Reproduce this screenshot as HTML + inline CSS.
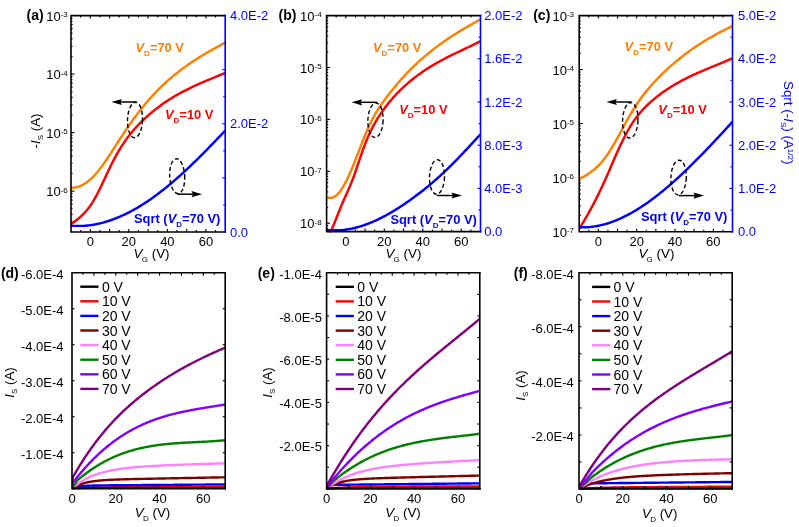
<!DOCTYPE html>
<html><head><meta charset="utf-8"><title>Figure</title>
<style>html,body{margin:0;padding:0;background:#fff;} body{width:799px;height:527px;overflow:hidden;} svg{display:block;filter:blur(0.3px);}</style>
</head><body>
<svg width="799" height="527" viewBox="0 0 799 527" font-family="'Liberation Sans', sans-serif">

<line x1="80.64" y1="232" x2="80.64" y2="230" stroke="#000" stroke-width="1.1"/>
<line x1="80.64" y1="15.6" x2="80.64" y2="17.6" stroke="#000" stroke-width="1.1"/>
<line x1="90.28" y1="232" x2="90.28" y2="229" stroke="#000" stroke-width="1.1"/>
<line x1="90.28" y1="15.6" x2="90.28" y2="18.6" stroke="#000" stroke-width="1.1"/>
<line x1="99.91" y1="232" x2="99.91" y2="230" stroke="#000" stroke-width="1.1"/>
<line x1="99.91" y1="15.6" x2="99.91" y2="17.6" stroke="#000" stroke-width="1.1"/>
<line x1="109.55" y1="232" x2="109.55" y2="229" stroke="#000" stroke-width="1.1"/>
<line x1="109.55" y1="15.6" x2="109.55" y2="18.6" stroke="#000" stroke-width="1.1"/>
<line x1="119.19" y1="232" x2="119.19" y2="230" stroke="#000" stroke-width="1.1"/>
<line x1="119.19" y1="15.6" x2="119.19" y2="17.6" stroke="#000" stroke-width="1.1"/>
<line x1="128.82" y1="232" x2="128.82" y2="229" stroke="#000" stroke-width="1.1"/>
<line x1="128.82" y1="15.6" x2="128.82" y2="18.6" stroke="#000" stroke-width="1.1"/>
<line x1="138.46" y1="232" x2="138.46" y2="230" stroke="#000" stroke-width="1.1"/>
<line x1="138.46" y1="15.6" x2="138.46" y2="17.6" stroke="#000" stroke-width="1.1"/>
<line x1="148.1" y1="232" x2="148.1" y2="229" stroke="#000" stroke-width="1.1"/>
<line x1="148.1" y1="15.6" x2="148.1" y2="18.6" stroke="#000" stroke-width="1.1"/>
<line x1="157.74" y1="232" x2="157.74" y2="230" stroke="#000" stroke-width="1.1"/>
<line x1="157.74" y1="15.6" x2="157.74" y2="17.6" stroke="#000" stroke-width="1.1"/>
<line x1="167.38" y1="232" x2="167.38" y2="229" stroke="#000" stroke-width="1.1"/>
<line x1="167.38" y1="15.6" x2="167.38" y2="18.6" stroke="#000" stroke-width="1.1"/>
<line x1="177.01" y1="232" x2="177.01" y2="230" stroke="#000" stroke-width="1.1"/>
<line x1="177.01" y1="15.6" x2="177.01" y2="17.6" stroke="#000" stroke-width="1.1"/>
<line x1="186.65" y1="232" x2="186.65" y2="229" stroke="#000" stroke-width="1.1"/>
<line x1="186.65" y1="15.6" x2="186.65" y2="18.6" stroke="#000" stroke-width="1.1"/>
<line x1="196.29" y1="232" x2="196.29" y2="230" stroke="#000" stroke-width="1.1"/>
<line x1="196.29" y1="15.6" x2="196.29" y2="17.6" stroke="#000" stroke-width="1.1"/>
<line x1="205.92" y1="232" x2="205.92" y2="229" stroke="#000" stroke-width="1.1"/>
<line x1="205.92" y1="15.6" x2="205.92" y2="18.6" stroke="#000" stroke-width="1.1"/>
<line x1="215.56" y1="232" x2="215.56" y2="230" stroke="#000" stroke-width="1.1"/>
<line x1="215.56" y1="15.6" x2="215.56" y2="17.6" stroke="#000" stroke-width="1.1"/>
<line x1="71" y1="74.1" x2="74.5" y2="74.1" stroke="#000" stroke-width="1.1"/>
<line x1="71" y1="56.49" x2="72.6" y2="56.49" stroke="#000" stroke-width="1.1"/>
<line x1="71" y1="46.19" x2="72.6" y2="46.19" stroke="#000" stroke-width="1.1"/>
<line x1="71" y1="38.88" x2="72.6" y2="38.88" stroke="#000" stroke-width="1.1"/>
<line x1="71" y1="33.21" x2="72.6" y2="33.21" stroke="#000" stroke-width="1.1"/>
<line x1="71" y1="28.58" x2="72.6" y2="28.58" stroke="#000" stroke-width="1.1"/>
<line x1="71" y1="24.66" x2="72.6" y2="24.66" stroke="#000" stroke-width="1.1"/>
<line x1="71" y1="21.27" x2="72.6" y2="21.27" stroke="#000" stroke-width="1.1"/>
<line x1="71" y1="18.28" x2="72.6" y2="18.28" stroke="#000" stroke-width="1.1"/>
<line x1="71" y1="132.6" x2="74.5" y2="132.6" stroke="#000" stroke-width="1.1"/>
<line x1="71" y1="114.99" x2="72.6" y2="114.99" stroke="#000" stroke-width="1.1"/>
<line x1="71" y1="104.69" x2="72.6" y2="104.69" stroke="#000" stroke-width="1.1"/>
<line x1="71" y1="97.38" x2="72.6" y2="97.38" stroke="#000" stroke-width="1.1"/>
<line x1="71" y1="91.71" x2="72.6" y2="91.71" stroke="#000" stroke-width="1.1"/>
<line x1="71" y1="87.08" x2="72.6" y2="87.08" stroke="#000" stroke-width="1.1"/>
<line x1="71" y1="83.16" x2="72.6" y2="83.16" stroke="#000" stroke-width="1.1"/>
<line x1="71" y1="79.77" x2="72.6" y2="79.77" stroke="#000" stroke-width="1.1"/>
<line x1="71" y1="76.78" x2="72.6" y2="76.78" stroke="#000" stroke-width="1.1"/>
<line x1="71" y1="191.1" x2="74.5" y2="191.1" stroke="#000" stroke-width="1.1"/>
<line x1="71" y1="173.49" x2="72.6" y2="173.49" stroke="#000" stroke-width="1.1"/>
<line x1="71" y1="163.19" x2="72.6" y2="163.19" stroke="#000" stroke-width="1.1"/>
<line x1="71" y1="155.88" x2="72.6" y2="155.88" stroke="#000" stroke-width="1.1"/>
<line x1="71" y1="150.21" x2="72.6" y2="150.21" stroke="#000" stroke-width="1.1"/>
<line x1="71" y1="145.58" x2="72.6" y2="145.58" stroke="#000" stroke-width="1.1"/>
<line x1="71" y1="141.66" x2="72.6" y2="141.66" stroke="#000" stroke-width="1.1"/>
<line x1="71" y1="138.27" x2="72.6" y2="138.27" stroke="#000" stroke-width="1.1"/>
<line x1="71" y1="135.28" x2="72.6" y2="135.28" stroke="#000" stroke-width="1.1"/>
<line x1="71" y1="221.69" x2="72.6" y2="221.69" stroke="#000" stroke-width="1.1"/>
<line x1="71" y1="214.38" x2="72.6" y2="214.38" stroke="#000" stroke-width="1.1"/>
<line x1="71" y1="208.71" x2="72.6" y2="208.71" stroke="#000" stroke-width="1.1"/>
<line x1="71" y1="204.08" x2="72.6" y2="204.08" stroke="#000" stroke-width="1.1"/>
<line x1="71" y1="200.16" x2="72.6" y2="200.16" stroke="#000" stroke-width="1.1"/>
<line x1="71" y1="196.77" x2="72.6" y2="196.77" stroke="#000" stroke-width="1.1"/>
<line x1="71" y1="193.78" x2="72.6" y2="193.78" stroke="#000" stroke-width="1.1"/>
<line x1="225.2" y1="204.95" x2="223.2" y2="204.95" stroke="#0000ff" stroke-width="1.1"/>
<line x1="225.2" y1="177.9" x2="222.2" y2="177.9" stroke="#0000ff" stroke-width="1.1"/>
<line x1="225.2" y1="150.85" x2="223.2" y2="150.85" stroke="#0000ff" stroke-width="1.1"/>
<line x1="225.2" y1="123.8" x2="222.2" y2="123.8" stroke="#0000ff" stroke-width="1.1"/>
<line x1="225.2" y1="96.75" x2="223.2" y2="96.75" stroke="#0000ff" stroke-width="1.1"/>
<line x1="225.2" y1="69.7" x2="222.2" y2="69.7" stroke="#0000ff" stroke-width="1.1"/>
<line x1="225.2" y1="42.65" x2="223.2" y2="42.65" stroke="#0000ff" stroke-width="1.1"/>
<clipPath id="clipa"><rect x="71.0" y="14.6" width="155.7" height="218.4"/></clipPath>
<g clip-path="url(#clipa)">
<path d="M71.00 187.80 L72.00 187.80 L73.00 187.75 L74.00 187.65 L75.00 187.51 L76.00 187.33 L77.00 187.10 L78.00 186.82 L79.00 186.49 L80.00 186.11 L81.00 185.69 L82.00 185.21 L83.00 184.69 L84.00 184.12 L85.00 183.49 L86.00 182.82 L87.00 182.11 L88.00 181.35 L89.00 180.54 L90.00 179.69 L91.00 178.79 L92.00 177.85 L93.00 176.86 L94.00 175.83 L95.00 174.76 L96.00 173.65 L97.00 172.50 L98.00 171.31 L99.00 170.07 L100.00 168.80 L101.00 167.49 L102.00 166.14 L103.00 164.76 L104.00 163.35 L105.00 161.90 L106.00 160.44 L107.00 158.95 L108.00 157.44 L109.00 155.92 L110.00 154.38 L111.00 152.84 L112.00 151.29 L113.00 149.75 L114.00 148.20 L115.00 146.65 L116.00 145.10 L117.00 143.56 L118.00 142.02 L119.00 140.49 L120.00 138.95 L121.00 137.43 L122.00 135.91 L123.00 134.40 L124.00 132.89 L125.00 131.40 L126.00 129.91 L127.00 128.43 L128.00 126.97 L129.00 125.51 L130.00 124.07 L131.00 122.64 L132.00 121.22 L133.00 119.82 L134.00 118.43 L135.00 117.06 L136.00 115.71 L137.00 114.37 L138.00 113.05 L139.00 111.74 L140.00 110.46 L141.00 109.18 L142.00 107.93 L143.00 106.69 L144.00 105.47 L145.00 104.26 L146.00 103.07 L147.00 101.90 L148.00 100.74 L149.00 99.59 L150.00 98.46 L151.00 97.35 L152.00 96.25 L153.00 95.16 L154.00 94.09 L155.00 93.03 L156.00 91.99 L157.00 90.96 L158.00 89.94 L159.00 88.93 L160.00 87.94 L161.00 86.97 L162.00 86.00 L163.00 85.05 L164.00 84.11 L165.00 83.18 L166.00 82.26 L167.00 81.36 L168.00 80.46 L169.00 79.58 L170.00 78.71 L171.00 77.85 L172.00 77.00 L173.00 76.17 L174.00 75.34 L175.00 74.52 L176.00 73.72 L177.00 72.92 L178.00 72.13 L179.00 71.35 L180.00 70.59 L181.00 69.83 L182.00 69.08 L183.00 68.33 L184.00 67.60 L185.00 66.88 L186.00 66.16 L187.00 65.45 L188.00 64.75 L189.00 64.06 L190.00 63.38 L191.00 62.70 L192.00 62.03 L193.00 61.36 L194.00 60.71 L195.00 60.06 L196.00 59.41 L197.00 58.78 L198.00 58.15 L199.00 57.52 L200.00 56.90 L201.00 56.29 L202.00 55.68 L203.00 55.07 L204.00 54.47 L205.00 53.88 L206.00 53.29 L207.00 52.70 L208.00 52.12 L209.00 51.55 L210.00 50.97 L211.00 50.40 L212.00 49.84 L213.00 49.27 L214.00 48.71 L215.00 48.16 L216.00 47.60 L217.00 47.05 L218.00 46.50 L219.00 45.95 L220.00 45.41 L221.00 44.86 L222.00 44.32 L223.00 43.78 L224.00 43.24 L225.00 42.70 L225.20 42.60" fill="none" stroke="#ff8000" stroke-width="2.45" stroke-linejoin="round" stroke-linecap="butt" />
<path d="M71.00 224.29 L72.00 223.56 L73.00 222.82 L74.00 222.08 L75.00 221.33 L76.00 220.56 L77.00 219.77 L78.00 218.95 L79.00 218.11 L80.00 217.25 L81.00 216.34 L82.00 215.40 L83.00 214.42 L84.00 213.40 L85.00 212.32 L86.00 211.20 L87.00 210.02 L88.00 208.78 L89.00 207.48 L90.00 206.11 L91.00 204.68 L92.00 203.17 L93.00 201.58 L94.00 199.91 L95.00 198.17 L96.00 196.36 L97.00 194.48 L98.00 192.54 L99.00 190.56 L100.00 188.53 L101.00 186.46 L102.00 184.37 L103.00 182.25 L104.00 180.11 L105.00 177.97 L106.00 175.82 L107.00 173.68 L108.00 171.55 L109.00 169.43 L110.00 167.34 L111.00 165.28 L112.00 163.26 L113.00 161.29 L114.00 159.36 L115.00 157.49 L116.00 155.66 L117.00 153.88 L118.00 152.15 L119.00 150.46 L120.00 148.81 L121.00 147.20 L122.00 145.64 L123.00 144.12 L124.00 142.63 L125.00 141.18 L126.00 139.77 L127.00 138.40 L128.00 137.06 L129.00 135.75 L130.00 134.47 L131.00 133.22 L132.00 132.01 L133.00 130.82 L134.00 129.66 L135.00 128.52 L136.00 127.41 L137.00 126.33 L138.00 125.27 L139.00 124.22 L140.00 123.20 L141.00 122.20 L142.00 121.21 L143.00 120.25 L144.00 119.30 L145.00 118.36 L146.00 117.44 L147.00 116.53 L148.00 115.63 L149.00 114.75 L150.00 113.88 L151.00 113.03 L152.00 112.19 L153.00 111.36 L154.00 110.55 L155.00 109.75 L156.00 108.96 L157.00 108.18 L158.00 107.41 L159.00 106.66 L160.00 105.92 L161.00 105.19 L162.00 104.47 L163.00 103.76 L164.00 103.06 L165.00 102.37 L166.00 101.70 L167.00 101.03 L168.00 100.38 L169.00 99.73 L170.00 99.09 L171.00 98.46 L172.00 97.85 L173.00 97.24 L174.00 96.64 L175.00 96.05 L176.00 95.46 L177.00 94.89 L178.00 94.32 L179.00 93.76 L180.00 93.21 L181.00 92.66 L182.00 92.13 L183.00 91.60 L184.00 91.07 L185.00 90.56 L186.00 90.05 L187.00 89.54 L188.00 89.04 L189.00 88.55 L190.00 88.06 L191.00 87.58 L192.00 87.11 L193.00 86.64 L194.00 86.17 L195.00 85.71 L196.00 85.25 L197.00 84.80 L198.00 84.35 L199.00 83.90 L200.00 83.46 L201.00 83.02 L202.00 82.59 L203.00 82.16 L204.00 81.73 L205.00 81.30 L206.00 80.88 L207.00 80.46 L208.00 80.04 L209.00 79.62 L210.00 79.20 L211.00 78.78 L212.00 78.37 L213.00 77.96 L214.00 77.55 L215.00 77.13 L216.00 76.72 L217.00 76.31 L218.00 75.90 L219.00 75.49 L220.00 75.08 L221.00 74.67 L222.00 74.25 L223.00 73.84 L224.00 73.42 L225.00 73.01 L225.20 72.92" fill="none" stroke="#ff0000" stroke-width="2.45" stroke-linejoin="round" stroke-linecap="butt" />
<path d="M71.00 225.85 L72.00 225.85 L73.00 225.85 L74.00 225.85 L75.00 225.85 L76.00 225.85 L77.00 225.85 L78.00 225.85 L79.00 225.85 L80.00 225.85 L81.00 225.85 L82.00 225.85 L83.00 225.85 L84.00 225.85 L85.00 225.78 L86.00 225.69 L87.00 225.59 L88.00 225.49 L89.00 225.37 L90.00 225.24 L91.00 225.10 L92.00 224.94 L93.00 224.78 L94.00 224.61 L95.00 224.43 L96.00 224.23 L97.00 224.03 L98.00 223.82 L99.00 223.59 L100.00 223.36 L101.00 223.11 L102.00 222.86 L103.00 222.60 L104.00 222.32 L105.00 222.04 L106.00 221.74 L107.00 221.44 L108.00 221.12 L109.00 220.80 L110.00 220.47 L111.00 220.12 L112.00 219.77 L113.00 219.41 L114.00 219.04 L115.00 218.65 L116.00 218.26 L117.00 217.86 L118.00 217.45 L119.00 217.03 L120.00 216.60 L121.00 216.17 L122.00 215.72 L123.00 215.26 L124.00 214.80 L125.00 214.32 L126.00 213.84 L127.00 213.35 L128.00 212.85 L129.00 212.34 L130.00 211.82 L131.00 211.29 L132.00 210.75 L133.00 210.21 L134.00 209.65 L135.00 209.09 L136.00 208.52 L137.00 207.94 L138.00 207.35 L139.00 206.75 L140.00 206.15 L141.00 205.53 L142.00 204.91 L143.00 204.28 L144.00 203.64 L145.00 202.99 L146.00 202.34 L147.00 201.68 L148.00 201.00 L149.00 200.32 L150.00 199.64 L151.00 198.94 L152.00 198.24 L153.00 197.53 L154.00 196.81 L155.00 196.08 L156.00 195.35 L157.00 194.61 L158.00 193.86 L159.00 193.10 L160.00 192.34 L161.00 191.56 L162.00 190.78 L163.00 190.00 L164.00 189.20 L165.00 188.40 L166.00 187.59 L167.00 186.78 L168.00 185.96 L169.00 185.13 L170.00 184.29 L171.00 183.45 L172.00 182.60 L173.00 181.75 L174.00 180.89 L175.00 180.02 L176.00 179.15 L177.00 178.27 L178.00 177.38 L179.00 176.49 L180.00 175.60 L181.00 174.69 L182.00 173.79 L183.00 172.87 L184.00 171.95 L185.00 171.03 L186.00 170.10 L187.00 169.16 L188.00 168.22 L189.00 167.28 L190.00 166.33 L191.00 165.38 L192.00 164.42 L193.00 163.45 L194.00 162.48 L195.00 161.51 L196.00 160.53 L197.00 159.55 L198.00 158.57 L199.00 157.58 L200.00 156.58 L201.00 155.58 L202.00 154.58 L203.00 153.58 L204.00 152.57 L205.00 151.56 L206.00 150.55 L207.00 149.53 L208.00 148.51 L209.00 147.48 L210.00 146.46 L211.00 145.43 L212.00 144.40 L213.00 143.37 L214.00 142.33 L215.00 141.30 L216.00 140.26 L217.00 139.22 L218.00 138.17 L219.00 137.13 L220.00 136.08 L221.00 135.04 L222.00 133.99 L223.00 132.94 L224.00 131.89 L225.00 130.84 L225.20 130.63" fill="none" stroke="#0000ff" stroke-width="2.45" stroke-linejoin="round" stroke-linecap="butt" />
</g>
<path d="M225.2 15.6 L71 15.6 L71 232 L225.2 232" fill="none" stroke="#000" stroke-width="1.6" stroke-linecap="square"/>
<line x1="225.2" y1="14.8" x2="225.2" y2="232.8" stroke="#0000ff" stroke-width="1.6"/>
<line x1="336.22" y1="231.6" x2="336.22" y2="229.6" stroke="#000" stroke-width="1.1"/>
<line x1="336.22" y1="15.6" x2="336.22" y2="17.6" stroke="#000" stroke-width="1.1"/>
<line x1="345.84" y1="231.6" x2="345.84" y2="228.6" stroke="#000" stroke-width="1.1"/>
<line x1="345.84" y1="15.6" x2="345.84" y2="18.6" stroke="#000" stroke-width="1.1"/>
<line x1="355.46" y1="231.6" x2="355.46" y2="229.6" stroke="#000" stroke-width="1.1"/>
<line x1="355.46" y1="15.6" x2="355.46" y2="17.6" stroke="#000" stroke-width="1.1"/>
<line x1="365.08" y1="231.6" x2="365.08" y2="228.6" stroke="#000" stroke-width="1.1"/>
<line x1="365.08" y1="15.6" x2="365.08" y2="18.6" stroke="#000" stroke-width="1.1"/>
<line x1="374.69" y1="231.6" x2="374.69" y2="229.6" stroke="#000" stroke-width="1.1"/>
<line x1="374.69" y1="15.6" x2="374.69" y2="17.6" stroke="#000" stroke-width="1.1"/>
<line x1="384.31" y1="231.6" x2="384.31" y2="228.6" stroke="#000" stroke-width="1.1"/>
<line x1="384.31" y1="15.6" x2="384.31" y2="18.6" stroke="#000" stroke-width="1.1"/>
<line x1="393.93" y1="231.6" x2="393.93" y2="229.6" stroke="#000" stroke-width="1.1"/>
<line x1="393.93" y1="15.6" x2="393.93" y2="17.6" stroke="#000" stroke-width="1.1"/>
<line x1="403.55" y1="231.6" x2="403.55" y2="228.6" stroke="#000" stroke-width="1.1"/>
<line x1="403.55" y1="15.6" x2="403.55" y2="18.6" stroke="#000" stroke-width="1.1"/>
<line x1="413.17" y1="231.6" x2="413.17" y2="229.6" stroke="#000" stroke-width="1.1"/>
<line x1="413.17" y1="15.6" x2="413.17" y2="17.6" stroke="#000" stroke-width="1.1"/>
<line x1="422.79" y1="231.6" x2="422.79" y2="228.6" stroke="#000" stroke-width="1.1"/>
<line x1="422.79" y1="15.6" x2="422.79" y2="18.6" stroke="#000" stroke-width="1.1"/>
<line x1="432.41" y1="231.6" x2="432.41" y2="229.6" stroke="#000" stroke-width="1.1"/>
<line x1="432.41" y1="15.6" x2="432.41" y2="17.6" stroke="#000" stroke-width="1.1"/>
<line x1="442.02" y1="231.6" x2="442.02" y2="228.6" stroke="#000" stroke-width="1.1"/>
<line x1="442.02" y1="15.6" x2="442.02" y2="18.6" stroke="#000" stroke-width="1.1"/>
<line x1="451.64" y1="231.6" x2="451.64" y2="229.6" stroke="#000" stroke-width="1.1"/>
<line x1="451.64" y1="15.6" x2="451.64" y2="17.6" stroke="#000" stroke-width="1.1"/>
<line x1="461.26" y1="231.6" x2="461.26" y2="228.6" stroke="#000" stroke-width="1.1"/>
<line x1="461.26" y1="15.6" x2="461.26" y2="18.6" stroke="#000" stroke-width="1.1"/>
<line x1="470.88" y1="231.6" x2="470.88" y2="229.6" stroke="#000" stroke-width="1.1"/>
<line x1="470.88" y1="15.6" x2="470.88" y2="17.6" stroke="#000" stroke-width="1.1"/>
<line x1="326.6" y1="67.5" x2="330.1" y2="67.5" stroke="#000" stroke-width="1.1"/>
<line x1="326.6" y1="51.88" x2="328.2" y2="51.88" stroke="#000" stroke-width="1.1"/>
<line x1="326.6" y1="42.74" x2="328.2" y2="42.74" stroke="#000" stroke-width="1.1"/>
<line x1="326.6" y1="36.25" x2="328.2" y2="36.25" stroke="#000" stroke-width="1.1"/>
<line x1="326.6" y1="31.22" x2="328.2" y2="31.22" stroke="#000" stroke-width="1.1"/>
<line x1="326.6" y1="27.11" x2="328.2" y2="27.11" stroke="#000" stroke-width="1.1"/>
<line x1="326.6" y1="23.64" x2="328.2" y2="23.64" stroke="#000" stroke-width="1.1"/>
<line x1="326.6" y1="20.63" x2="328.2" y2="20.63" stroke="#000" stroke-width="1.1"/>
<line x1="326.6" y1="17.97" x2="328.2" y2="17.97" stroke="#000" stroke-width="1.1"/>
<line x1="326.6" y1="119.4" x2="330.1" y2="119.4" stroke="#000" stroke-width="1.1"/>
<line x1="326.6" y1="103.78" x2="328.2" y2="103.78" stroke="#000" stroke-width="1.1"/>
<line x1="326.6" y1="94.64" x2="328.2" y2="94.64" stroke="#000" stroke-width="1.1"/>
<line x1="326.6" y1="88.15" x2="328.2" y2="88.15" stroke="#000" stroke-width="1.1"/>
<line x1="326.6" y1="83.12" x2="328.2" y2="83.12" stroke="#000" stroke-width="1.1"/>
<line x1="326.6" y1="79.01" x2="328.2" y2="79.01" stroke="#000" stroke-width="1.1"/>
<line x1="326.6" y1="75.54" x2="328.2" y2="75.54" stroke="#000" stroke-width="1.1"/>
<line x1="326.6" y1="72.53" x2="328.2" y2="72.53" stroke="#000" stroke-width="1.1"/>
<line x1="326.6" y1="69.87" x2="328.2" y2="69.87" stroke="#000" stroke-width="1.1"/>
<line x1="326.6" y1="171.3" x2="330.1" y2="171.3" stroke="#000" stroke-width="1.1"/>
<line x1="326.6" y1="155.68" x2="328.2" y2="155.68" stroke="#000" stroke-width="1.1"/>
<line x1="326.6" y1="146.54" x2="328.2" y2="146.54" stroke="#000" stroke-width="1.1"/>
<line x1="326.6" y1="140.05" x2="328.2" y2="140.05" stroke="#000" stroke-width="1.1"/>
<line x1="326.6" y1="135.02" x2="328.2" y2="135.02" stroke="#000" stroke-width="1.1"/>
<line x1="326.6" y1="130.91" x2="328.2" y2="130.91" stroke="#000" stroke-width="1.1"/>
<line x1="326.6" y1="127.44" x2="328.2" y2="127.44" stroke="#000" stroke-width="1.1"/>
<line x1="326.6" y1="124.43" x2="328.2" y2="124.43" stroke="#000" stroke-width="1.1"/>
<line x1="326.6" y1="121.77" x2="328.2" y2="121.77" stroke="#000" stroke-width="1.1"/>
<line x1="326.6" y1="223.2" x2="330.1" y2="223.2" stroke="#000" stroke-width="1.1"/>
<line x1="326.6" y1="207.58" x2="328.2" y2="207.58" stroke="#000" stroke-width="1.1"/>
<line x1="326.6" y1="198.44" x2="328.2" y2="198.44" stroke="#000" stroke-width="1.1"/>
<line x1="326.6" y1="191.95" x2="328.2" y2="191.95" stroke="#000" stroke-width="1.1"/>
<line x1="326.6" y1="186.92" x2="328.2" y2="186.92" stroke="#000" stroke-width="1.1"/>
<line x1="326.6" y1="182.81" x2="328.2" y2="182.81" stroke="#000" stroke-width="1.1"/>
<line x1="326.6" y1="179.34" x2="328.2" y2="179.34" stroke="#000" stroke-width="1.1"/>
<line x1="326.6" y1="176.33" x2="328.2" y2="176.33" stroke="#000" stroke-width="1.1"/>
<line x1="326.6" y1="173.67" x2="328.2" y2="173.67" stroke="#000" stroke-width="1.1"/>
<line x1="326.6" y1="228.23" x2="328.2" y2="228.23" stroke="#000" stroke-width="1.1"/>
<line x1="326.6" y1="225.57" x2="328.2" y2="225.57" stroke="#000" stroke-width="1.1"/>
<line x1="480.5" y1="210" x2="478.5" y2="210" stroke="#0000ff" stroke-width="1.1"/>
<line x1="480.5" y1="188.4" x2="477.5" y2="188.4" stroke="#0000ff" stroke-width="1.1"/>
<line x1="480.5" y1="166.8" x2="478.5" y2="166.8" stroke="#0000ff" stroke-width="1.1"/>
<line x1="480.5" y1="145.2" x2="477.5" y2="145.2" stroke="#0000ff" stroke-width="1.1"/>
<line x1="480.5" y1="123.6" x2="478.5" y2="123.6" stroke="#0000ff" stroke-width="1.1"/>
<line x1="480.5" y1="102" x2="477.5" y2="102" stroke="#0000ff" stroke-width="1.1"/>
<line x1="480.5" y1="80.4" x2="478.5" y2="80.4" stroke="#0000ff" stroke-width="1.1"/>
<line x1="480.5" y1="58.8" x2="477.5" y2="58.8" stroke="#0000ff" stroke-width="1.1"/>
<line x1="480.5" y1="37.2" x2="478.5" y2="37.2" stroke="#0000ff" stroke-width="1.1"/>
<clipPath id="clipb"><rect x="326.6" y="14.6" width="155.39999999999998" height="218.0"/></clipPath>
<g clip-path="url(#clipb)">
<path d="M326.60 197.68 L327.60 197.68 L328.60 197.68 L329.60 197.68 L330.60 197.68 L331.60 197.68 L332.60 197.63 L333.60 197.19 L334.60 196.63 L335.60 195.94 L336.60 195.13 L337.60 194.19 L338.60 193.13 L339.60 191.94 L340.60 190.63 L341.60 189.19 L342.60 187.63 L343.60 185.95 L344.60 184.17 L345.60 182.29 L346.60 180.32 L347.60 178.26 L348.60 176.12 L349.60 173.90 L350.60 171.62 L351.60 169.28 L352.60 166.88 L353.60 164.44 L354.60 161.95 L355.60 159.43 L356.60 156.89 L357.60 154.32 L358.60 151.75 L359.60 149.17 L360.60 146.59 L361.60 144.03 L362.60 141.48 L363.60 138.97 L364.60 136.49 L365.60 134.05 L366.60 131.66 L367.60 129.33 L368.60 127.06 L369.60 124.87 L370.60 122.76 L371.60 120.73 L372.60 118.79 L373.60 116.91 L374.60 115.12 L375.60 113.38 L376.60 111.71 L377.60 110.09 L378.60 108.53 L379.60 107.00 L380.60 105.52 L381.60 104.08 L382.60 102.66 L383.60 101.27 L384.60 99.91 L385.60 98.55 L386.60 97.22 L387.60 95.89 L388.60 94.59 L389.60 93.30 L390.60 92.02 L391.60 90.76 L392.60 89.51 L393.60 88.28 L394.60 87.06 L395.60 85.86 L396.60 84.67 L397.60 83.49 L398.60 82.33 L399.60 81.18 L400.60 80.05 L401.60 78.93 L402.60 77.82 L403.60 76.72 L404.60 75.64 L405.60 74.57 L406.60 73.51 L407.60 72.47 L408.60 71.44 L409.60 70.41 L410.60 69.41 L411.60 68.41 L412.60 67.42 L413.60 66.45 L414.60 65.49 L415.60 64.54 L416.60 63.59 L417.60 62.67 L418.60 61.75 L419.60 60.84 L420.60 59.94 L421.60 59.05 L422.60 58.17 L423.60 57.31 L424.60 56.45 L425.60 55.60 L426.60 54.76 L427.60 53.93 L428.60 53.11 L429.60 52.30 L430.60 51.50 L431.60 50.70 L432.60 49.92 L433.60 49.14 L434.60 48.37 L435.60 47.61 L436.60 46.86 L437.60 46.12 L438.60 45.38 L439.60 44.65 L440.60 43.93 L441.60 43.21 L442.60 42.50 L443.60 41.80 L444.60 41.11 L445.60 40.42 L446.60 39.74 L447.60 39.06 L448.60 38.39 L449.60 37.73 L450.60 37.07 L451.60 36.42 L452.60 35.78 L453.60 35.13 L454.60 34.50 L455.60 33.87 L456.60 33.24 L457.60 32.62 L458.60 32.00 L459.60 31.39 L460.60 30.78 L461.60 30.18 L462.60 29.58 L463.60 28.99 L464.60 28.39 L465.60 27.80 L466.60 27.22 L467.60 26.64 L468.60 26.06 L469.60 25.48 L470.60 24.91 L471.60 24.34 L472.60 23.77 L473.60 23.20 L474.60 22.64 L475.60 22.08 L476.60 21.52 L477.60 20.96 L478.60 20.40 L479.60 19.84 L480.50 19.35" fill="none" stroke="#ff8000" stroke-width="2.45" stroke-linejoin="round" stroke-linecap="butt" />
<path d="M326.60 239.06 L327.60 237.51 L328.60 235.77 L329.60 233.87 L330.60 231.82 L331.60 229.64 L332.60 227.35 L333.60 224.97 L334.60 222.53 L335.60 220.03 L336.60 217.50 L337.60 214.96 L338.60 212.42 L339.60 209.91 L340.60 207.44 L341.60 205.04 L342.60 202.71 L343.60 200.43 L344.60 198.19 L345.60 195.97 L346.60 193.76 L347.60 191.53 L348.60 189.27 L349.60 186.96 L350.60 184.58 L351.60 182.12 L352.60 179.56 L353.60 176.89 L354.60 174.12 L355.60 171.28 L356.60 168.38 L357.60 165.44 L358.60 162.48 L359.60 159.52 L360.60 156.57 L361.60 153.66 L362.60 150.81 L363.60 148.03 L364.60 145.35 L365.60 142.76 L366.60 140.28 L367.60 137.89 L368.60 135.60 L369.60 133.39 L370.60 131.27 L371.60 129.23 L372.60 127.26 L373.60 125.37 L374.60 123.55 L375.60 121.79 L376.60 120.09 L377.60 118.45 L378.60 116.86 L379.60 115.31 L380.60 113.81 L381.60 112.36 L382.60 110.93 L383.60 109.55 L384.60 108.19 L385.60 106.86 L386.60 105.56 L387.60 104.28 L388.60 103.04 L389.60 101.82 L390.60 100.63 L391.60 99.46 L392.60 98.31 L393.60 97.19 L394.60 96.09 L395.60 95.01 L396.60 93.95 L397.60 92.91 L398.60 91.89 L399.60 90.89 L400.60 89.90 L401.60 88.93 L402.60 87.97 L403.60 87.03 L404.60 86.11 L405.60 85.20 L406.60 84.30 L407.60 83.42 L408.60 82.56 L409.60 81.71 L410.60 80.87 L411.60 80.04 L412.60 79.23 L413.60 78.43 L414.60 77.65 L415.60 76.88 L416.60 76.11 L417.60 75.37 L418.60 74.63 L419.60 73.90 L420.60 73.19 L421.60 72.48 L422.60 71.79 L423.60 71.11 L424.60 70.44 L425.60 69.77 L426.60 69.12 L427.60 68.48 L428.60 67.84 L429.60 67.22 L430.60 66.60 L431.60 65.99 L432.60 65.39 L433.60 64.80 L434.60 64.21 L435.60 63.64 L436.60 63.07 L437.60 62.50 L438.60 61.95 L439.60 61.39 L440.60 60.85 L441.60 60.31 L442.60 59.78 L443.60 59.25 L444.60 58.73 L445.60 58.21 L446.60 57.69 L447.60 57.19 L448.60 56.68 L449.60 56.18 L450.60 55.68 L451.60 55.19 L452.60 54.69 L453.60 54.20 L454.60 53.72 L455.60 53.23 L456.60 52.75 L457.60 52.27 L458.60 51.79 L459.60 51.31 L460.60 50.84 L461.60 50.36 L462.60 49.88 L463.60 49.41 L464.60 48.93 L465.60 48.45 L466.60 47.98 L467.60 47.50 L468.60 47.02 L469.60 46.54 L470.60 46.06 L471.60 45.57 L472.60 45.09 L473.60 44.60 L474.60 44.11 L475.60 43.62 L476.60 43.12 L477.60 42.62 L478.60 42.11 L479.60 41.61 L480.50 41.14" fill="none" stroke="#ff0000" stroke-width="2.45" stroke-linejoin="round" stroke-linecap="butt" />
<path d="M326.60 230.15 L327.60 230.15 L328.60 230.15 L329.60 230.15 L330.60 230.15 L331.60 230.15 L332.60 230.15 L333.60 230.15 L334.60 230.15 L335.60 230.15 L336.60 230.15 L337.60 230.15 L338.60 230.15 L339.60 230.15 L340.60 230.15 L341.60 230.15 L342.60 230.09 L343.60 229.98 L344.60 229.85 L345.60 229.72 L346.60 229.57 L347.60 229.41 L348.60 229.24 L349.60 229.06 L350.60 228.86 L351.60 228.66 L352.60 228.44 L353.60 228.21 L354.60 227.97 L355.60 227.72 L356.60 227.46 L357.60 227.19 L358.60 226.91 L359.60 226.61 L360.60 226.31 L361.60 226.00 L362.60 225.67 L363.60 225.34 L364.60 224.99 L365.60 224.63 L366.60 224.27 L367.60 223.89 L368.60 223.51 L369.60 223.11 L370.60 222.71 L371.60 222.29 L372.60 221.87 L373.60 221.44 L374.60 221.00 L375.60 220.54 L376.60 220.08 L377.60 219.62 L378.60 219.14 L379.60 218.65 L380.60 218.15 L381.60 217.65 L382.60 217.14 L383.60 216.62 L384.60 216.09 L385.60 215.55 L386.60 215.00 L387.60 214.45 L388.60 213.89 L389.60 213.32 L390.60 212.74 L391.60 212.16 L392.60 211.57 L393.60 210.97 L394.60 210.36 L395.60 209.75 L396.60 209.13 L397.60 208.50 L398.60 207.86 L399.60 207.22 L400.60 206.57 L401.60 205.92 L402.60 205.25 L403.60 204.58 L404.60 203.91 L405.60 203.23 L406.60 202.54 L407.60 201.85 L408.60 201.15 L409.60 200.44 L410.60 199.73 L411.60 199.01 L412.60 198.29 L413.60 197.56 L414.60 196.82 L415.60 196.08 L416.60 195.33 L417.60 194.58 L418.60 193.82 L419.60 193.05 L420.60 192.28 L421.60 191.50 L422.60 190.71 L423.60 189.92 L424.60 189.12 L425.60 188.31 L426.60 187.50 L427.60 186.68 L428.60 185.85 L429.60 185.02 L430.60 184.17 L431.60 183.33 L432.60 182.47 L433.60 181.61 L434.60 180.74 L435.60 179.87 L436.60 178.99 L437.60 178.10 L438.60 177.20 L439.60 176.30 L440.60 175.39 L441.60 174.47 L442.60 173.54 L443.60 172.61 L444.60 171.67 L445.60 170.72 L446.60 169.76 L447.60 168.80 L448.60 167.83 L449.60 166.85 L450.60 165.87 L451.60 164.88 L452.60 163.88 L453.60 162.87 L454.60 161.86 L455.60 160.85 L456.60 159.82 L457.60 158.80 L458.60 157.76 L459.60 156.72 L460.60 155.68 L461.60 154.63 L462.60 153.58 L463.60 152.52 L464.60 151.46 L465.60 150.40 L466.60 149.33 L467.60 148.26 L468.60 147.18 L469.60 146.10 L470.60 145.02 L471.60 143.94 L472.60 142.85 L473.60 141.77 L474.60 140.68 L475.60 139.59 L476.60 138.49 L477.60 137.40 L478.60 136.30 L479.60 135.21 L480.50 134.22" fill="none" stroke="#0000ff" stroke-width="2.45" stroke-linejoin="round" stroke-linecap="butt" />
</g>
<path d="M480.5 15.6 L326.6 15.6 L326.6 231.6 L480.5 231.6" fill="none" stroke="#000" stroke-width="1.6" stroke-linecap="square"/>
<line x1="480.5" y1="14.8" x2="480.5" y2="232.4" stroke="#0000ff" stroke-width="1.6"/>
<line x1="588.78" y1="231.7" x2="588.78" y2="229.7" stroke="#000" stroke-width="1.1"/>
<line x1="588.78" y1="15.6" x2="588.78" y2="17.6" stroke="#000" stroke-width="1.1"/>
<line x1="598.36" y1="231.7" x2="598.36" y2="228.7" stroke="#000" stroke-width="1.1"/>
<line x1="598.36" y1="15.6" x2="598.36" y2="18.6" stroke="#000" stroke-width="1.1"/>
<line x1="607.94" y1="231.7" x2="607.94" y2="229.7" stroke="#000" stroke-width="1.1"/>
<line x1="607.94" y1="15.6" x2="607.94" y2="17.6" stroke="#000" stroke-width="1.1"/>
<line x1="617.53" y1="231.7" x2="617.53" y2="228.7" stroke="#000" stroke-width="1.1"/>
<line x1="617.53" y1="15.6" x2="617.53" y2="18.6" stroke="#000" stroke-width="1.1"/>
<line x1="627.11" y1="231.7" x2="627.11" y2="229.7" stroke="#000" stroke-width="1.1"/>
<line x1="627.11" y1="15.6" x2="627.11" y2="17.6" stroke="#000" stroke-width="1.1"/>
<line x1="636.69" y1="231.7" x2="636.69" y2="228.7" stroke="#000" stroke-width="1.1"/>
<line x1="636.69" y1="15.6" x2="636.69" y2="18.6" stroke="#000" stroke-width="1.1"/>
<line x1="646.27" y1="231.7" x2="646.27" y2="229.7" stroke="#000" stroke-width="1.1"/>
<line x1="646.27" y1="15.6" x2="646.27" y2="17.6" stroke="#000" stroke-width="1.1"/>
<line x1="655.85" y1="231.7" x2="655.85" y2="228.7" stroke="#000" stroke-width="1.1"/>
<line x1="655.85" y1="15.6" x2="655.85" y2="18.6" stroke="#000" stroke-width="1.1"/>
<line x1="665.43" y1="231.7" x2="665.43" y2="229.7" stroke="#000" stroke-width="1.1"/>
<line x1="665.43" y1="15.6" x2="665.43" y2="17.6" stroke="#000" stroke-width="1.1"/>
<line x1="675.01" y1="231.7" x2="675.01" y2="228.7" stroke="#000" stroke-width="1.1"/>
<line x1="675.01" y1="15.6" x2="675.01" y2="18.6" stroke="#000" stroke-width="1.1"/>
<line x1="684.59" y1="231.7" x2="684.59" y2="229.7" stroke="#000" stroke-width="1.1"/>
<line x1="684.59" y1="15.6" x2="684.59" y2="17.6" stroke="#000" stroke-width="1.1"/>
<line x1="694.17" y1="231.7" x2="694.17" y2="228.7" stroke="#000" stroke-width="1.1"/>
<line x1="694.17" y1="15.6" x2="694.17" y2="18.6" stroke="#000" stroke-width="1.1"/>
<line x1="703.76" y1="231.7" x2="703.76" y2="229.7" stroke="#000" stroke-width="1.1"/>
<line x1="703.76" y1="15.6" x2="703.76" y2="17.6" stroke="#000" stroke-width="1.1"/>
<line x1="713.34" y1="231.7" x2="713.34" y2="228.7" stroke="#000" stroke-width="1.1"/>
<line x1="713.34" y1="15.6" x2="713.34" y2="18.6" stroke="#000" stroke-width="1.1"/>
<line x1="722.92" y1="231.7" x2="722.92" y2="229.7" stroke="#000" stroke-width="1.1"/>
<line x1="722.92" y1="15.6" x2="722.92" y2="17.6" stroke="#000" stroke-width="1.1"/>
<line x1="579.2" y1="69.6" x2="582.7" y2="69.6" stroke="#000" stroke-width="1.1"/>
<line x1="579.2" y1="53.34" x2="580.8" y2="53.34" stroke="#000" stroke-width="1.1"/>
<line x1="579.2" y1="43.84" x2="580.8" y2="43.84" stroke="#000" stroke-width="1.1"/>
<line x1="579.2" y1="37.09" x2="580.8" y2="37.09" stroke="#000" stroke-width="1.1"/>
<line x1="579.2" y1="31.86" x2="580.8" y2="31.86" stroke="#000" stroke-width="1.1"/>
<line x1="579.2" y1="27.58" x2="580.8" y2="27.58" stroke="#000" stroke-width="1.1"/>
<line x1="579.2" y1="23.96" x2="580.8" y2="23.96" stroke="#000" stroke-width="1.1"/>
<line x1="579.2" y1="20.83" x2="580.8" y2="20.83" stroke="#000" stroke-width="1.1"/>
<line x1="579.2" y1="18.07" x2="580.8" y2="18.07" stroke="#000" stroke-width="1.1"/>
<line x1="579.2" y1="123.6" x2="582.7" y2="123.6" stroke="#000" stroke-width="1.1"/>
<line x1="579.2" y1="107.34" x2="580.8" y2="107.34" stroke="#000" stroke-width="1.1"/>
<line x1="579.2" y1="97.84" x2="580.8" y2="97.84" stroke="#000" stroke-width="1.1"/>
<line x1="579.2" y1="91.09" x2="580.8" y2="91.09" stroke="#000" stroke-width="1.1"/>
<line x1="579.2" y1="85.86" x2="580.8" y2="85.86" stroke="#000" stroke-width="1.1"/>
<line x1="579.2" y1="81.58" x2="580.8" y2="81.58" stroke="#000" stroke-width="1.1"/>
<line x1="579.2" y1="77.96" x2="580.8" y2="77.96" stroke="#000" stroke-width="1.1"/>
<line x1="579.2" y1="74.83" x2="580.8" y2="74.83" stroke="#000" stroke-width="1.1"/>
<line x1="579.2" y1="72.07" x2="580.8" y2="72.07" stroke="#000" stroke-width="1.1"/>
<line x1="579.2" y1="177.6" x2="582.7" y2="177.6" stroke="#000" stroke-width="1.1"/>
<line x1="579.2" y1="161.34" x2="580.8" y2="161.34" stroke="#000" stroke-width="1.1"/>
<line x1="579.2" y1="151.84" x2="580.8" y2="151.84" stroke="#000" stroke-width="1.1"/>
<line x1="579.2" y1="145.09" x2="580.8" y2="145.09" stroke="#000" stroke-width="1.1"/>
<line x1="579.2" y1="139.86" x2="580.8" y2="139.86" stroke="#000" stroke-width="1.1"/>
<line x1="579.2" y1="135.58" x2="580.8" y2="135.58" stroke="#000" stroke-width="1.1"/>
<line x1="579.2" y1="131.96" x2="580.8" y2="131.96" stroke="#000" stroke-width="1.1"/>
<line x1="579.2" y1="128.83" x2="580.8" y2="128.83" stroke="#000" stroke-width="1.1"/>
<line x1="579.2" y1="126.07" x2="580.8" y2="126.07" stroke="#000" stroke-width="1.1"/>
<line x1="579.2" y1="215.34" x2="580.8" y2="215.34" stroke="#000" stroke-width="1.1"/>
<line x1="579.2" y1="205.84" x2="580.8" y2="205.84" stroke="#000" stroke-width="1.1"/>
<line x1="579.2" y1="199.09" x2="580.8" y2="199.09" stroke="#000" stroke-width="1.1"/>
<line x1="579.2" y1="193.86" x2="580.8" y2="193.86" stroke="#000" stroke-width="1.1"/>
<line x1="579.2" y1="189.58" x2="580.8" y2="189.58" stroke="#000" stroke-width="1.1"/>
<line x1="579.2" y1="185.96" x2="580.8" y2="185.96" stroke="#000" stroke-width="1.1"/>
<line x1="579.2" y1="182.83" x2="580.8" y2="182.83" stroke="#000" stroke-width="1.1"/>
<line x1="579.2" y1="180.07" x2="580.8" y2="180.07" stroke="#000" stroke-width="1.1"/>
<line x1="732.5" y1="210.09" x2="730.5" y2="210.09" stroke="#0000ff" stroke-width="1.1"/>
<line x1="732.5" y1="188.48" x2="729.5" y2="188.48" stroke="#0000ff" stroke-width="1.1"/>
<line x1="732.5" y1="166.87" x2="730.5" y2="166.87" stroke="#0000ff" stroke-width="1.1"/>
<line x1="732.5" y1="145.26" x2="729.5" y2="145.26" stroke="#0000ff" stroke-width="1.1"/>
<line x1="732.5" y1="123.65" x2="730.5" y2="123.65" stroke="#0000ff" stroke-width="1.1"/>
<line x1="732.5" y1="102.04" x2="729.5" y2="102.04" stroke="#0000ff" stroke-width="1.1"/>
<line x1="732.5" y1="80.43" x2="730.5" y2="80.43" stroke="#0000ff" stroke-width="1.1"/>
<line x1="732.5" y1="58.82" x2="729.5" y2="58.82" stroke="#0000ff" stroke-width="1.1"/>
<line x1="732.5" y1="37.21" x2="730.5" y2="37.21" stroke="#0000ff" stroke-width="1.1"/>
<clipPath id="clipc"><rect x="579.2" y="14.6" width="154.79999999999995" height="218.1"/></clipPath>
<g clip-path="url(#clipc)">
<path d="M579.20 178.97 L580.20 178.48 L581.20 177.97 L582.20 177.44 L583.20 176.90 L584.20 176.35 L585.20 175.77 L586.20 175.17 L587.20 174.55 L588.20 173.91 L589.20 173.24 L590.20 172.54 L591.20 171.81 L592.20 171.06 L593.20 170.27 L594.20 169.45 L595.20 168.59 L596.20 167.69 L597.20 166.76 L598.20 165.79 L599.20 164.77 L600.20 163.72 L601.20 162.61 L602.20 161.46 L603.20 160.27 L604.20 159.02 L605.20 157.72 L606.20 156.37 L607.20 154.96 L608.20 153.50 L609.20 151.99 L610.20 150.42 L611.20 148.81 L612.20 147.16 L613.20 145.48 L614.20 143.75 L615.20 142.00 L616.20 140.22 L617.20 138.42 L618.20 136.61 L619.20 134.77 L620.20 132.93 L621.20 131.08 L622.20 129.22 L623.20 127.37 L624.20 125.52 L625.20 123.68 L626.20 121.85 L627.20 120.03 L628.20 118.24 L629.20 116.47 L630.20 114.73 L631.20 113.01 L632.20 111.33 L633.20 109.69 L634.20 108.09 L635.20 106.53 L636.20 105.00 L637.20 103.50 L638.20 102.04 L639.20 100.60 L640.20 99.20 L641.20 97.83 L642.20 96.49 L643.20 95.18 L644.20 93.89 L645.20 92.62 L646.20 91.38 L647.20 90.17 L648.20 88.97 L649.20 87.80 L650.20 86.65 L651.20 85.51 L652.20 84.39 L653.20 83.29 L654.20 82.20 L655.20 81.13 L656.20 80.07 L657.20 79.02 L658.20 77.99 L659.20 76.96 L660.20 75.95 L661.20 74.95 L662.20 73.96 L663.20 72.99 L664.20 72.02 L665.20 71.07 L666.20 70.12 L667.20 69.19 L668.20 68.27 L669.20 67.36 L670.20 66.46 L671.20 65.57 L672.20 64.69 L673.20 63.82 L674.20 62.96 L675.20 62.11 L676.20 61.28 L677.20 60.45 L678.20 59.63 L679.20 58.82 L680.20 58.02 L681.20 57.22 L682.20 56.44 L683.20 55.67 L684.20 54.90 L685.20 54.15 L686.20 53.40 L687.20 52.66 L688.20 51.93 L689.20 51.21 L690.20 50.49 L691.20 49.79 L692.20 49.09 L693.20 48.40 L694.20 47.71 L695.20 47.04 L696.20 46.37 L697.20 45.71 L698.20 45.05 L699.20 44.40 L700.20 43.76 L701.20 43.13 L702.20 42.50 L703.20 41.88 L704.20 41.26 L705.20 40.66 L706.20 40.05 L707.20 39.46 L708.20 38.86 L709.20 38.28 L710.20 37.70 L711.20 37.12 L712.20 36.55 L713.20 35.99 L714.20 35.43 L715.20 34.88 L716.20 34.33 L717.20 33.78 L718.20 33.24 L719.20 32.70 L720.20 32.17 L721.20 31.64 L722.20 31.12 L723.20 30.60 L724.20 30.08 L725.20 29.57 L726.20 29.06 L727.20 28.56 L728.20 28.05 L729.20 27.55 L730.20 27.06 L731.20 26.56 L732.20 26.07 L732.50 25.93" fill="none" stroke="#ff8000" stroke-width="2.45" stroke-linejoin="round" stroke-linecap="butt" />
<path d="M579.20 228.72 L580.20 227.15 L581.20 225.56 L582.20 223.95 L583.20 222.31 L584.20 220.65 L585.20 218.96 L586.20 217.24 L587.20 215.50 L588.20 213.73 L589.20 211.94 L590.20 210.12 L591.20 208.27 L592.20 206.40 L593.20 204.51 L594.20 202.58 L595.20 200.63 L596.20 198.66 L597.20 196.66 L598.20 194.63 L599.20 192.58 L600.20 190.50 L601.20 188.40 L602.20 186.27 L603.20 184.12 L604.20 181.93 L605.20 179.73 L606.20 177.49 L607.20 175.23 L608.20 172.95 L609.20 170.64 L610.20 168.32 L611.20 165.99 L612.20 163.66 L613.20 161.33 L614.20 159.01 L615.20 156.71 L616.20 154.42 L617.20 152.17 L618.20 149.94 L619.20 147.76 L620.20 145.61 L621.20 143.50 L622.20 141.43 L623.20 139.41 L624.20 137.43 L625.20 135.49 L626.20 133.61 L627.20 131.77 L628.20 129.99 L629.20 128.26 L630.20 126.58 L631.20 124.97 L632.20 123.40 L633.20 121.89 L634.20 120.43 L635.20 119.02 L636.20 117.65 L637.20 116.33 L638.20 115.06 L639.20 113.82 L640.20 112.62 L641.20 111.47 L642.20 110.34 L643.20 109.26 L644.20 108.20 L645.20 107.17 L646.20 106.18 L647.20 105.21 L648.20 104.26 L649.20 103.34 L650.20 102.43 L651.20 101.55 L652.20 100.68 L653.20 99.83 L654.20 99.00 L655.20 98.17 L656.20 97.37 L657.20 96.57 L658.20 95.79 L659.20 95.02 L660.20 94.26 L661.20 93.52 L662.20 92.79 L663.20 92.07 L664.20 91.36 L665.20 90.67 L666.20 89.98 L667.20 89.31 L668.20 88.65 L669.20 87.99 L670.20 87.35 L671.20 86.72 L672.20 86.10 L673.20 85.49 L674.20 84.89 L675.20 84.30 L676.20 83.71 L677.20 83.14 L678.20 82.57 L679.20 82.02 L680.20 81.47 L681.20 80.92 L682.20 80.39 L683.20 79.87 L684.20 79.35 L685.20 78.83 L686.20 78.33 L687.20 77.83 L688.20 77.34 L689.20 76.85 L690.20 76.37 L691.20 75.90 L692.20 75.43 L693.20 74.96 L694.20 74.50 L695.20 74.05 L696.20 73.60 L697.20 73.15 L698.20 72.71 L699.20 72.27 L700.20 71.84 L701.20 71.41 L702.20 70.98 L703.20 70.55 L704.20 70.13 L705.20 69.71 L706.20 69.29 L707.20 68.87 L708.20 68.46 L709.20 68.04 L710.20 67.63 L711.20 67.22 L712.20 66.81 L713.20 66.40 L714.20 65.99 L715.20 65.58 L716.20 65.17 L717.20 64.76 L718.20 64.35 L719.20 63.93 L720.20 63.52 L721.20 63.11 L722.20 62.69 L723.20 62.27 L724.20 61.85 L725.20 61.43 L726.20 61.00 L727.20 60.58 L728.20 60.15 L729.20 59.71 L730.20 59.28 L731.20 58.83 L732.20 58.39 L732.50 58.26" fill="none" stroke="#ff0000" stroke-width="2.45" stroke-linejoin="round" stroke-linecap="butt" />
<path d="M579.20 227.28 L580.20 227.28 L581.20 227.28 L582.20 227.28 L583.20 227.28 L584.20 227.28 L585.20 227.28 L586.20 227.28 L587.20 227.24 L588.20 227.17 L589.20 227.10 L590.20 227.00 L591.20 226.90 L592.20 226.78 L593.20 226.65 L594.20 226.51 L595.20 226.35 L596.20 226.18 L597.20 226.00 L598.20 225.81 L599.20 225.60 L600.20 225.38 L601.20 225.15 L602.20 224.91 L603.20 224.66 L604.20 224.39 L605.20 224.11 L606.20 223.82 L607.20 223.52 L608.20 223.21 L609.20 222.88 L610.20 222.55 L611.20 222.20 L612.20 221.84 L613.20 221.47 L614.20 221.09 L615.20 220.70 L616.20 220.30 L617.20 219.88 L618.20 219.46 L619.20 219.03 L620.20 218.58 L621.20 218.13 L622.20 217.66 L623.20 217.18 L624.20 216.70 L625.20 216.20 L626.20 215.69 L627.20 215.18 L628.20 214.65 L629.20 214.11 L630.20 213.57 L631.20 213.01 L632.20 212.45 L633.20 211.87 L634.20 211.29 L635.20 210.70 L636.20 210.09 L637.20 209.48 L638.20 208.86 L639.20 208.23 L640.20 207.59 L641.20 206.94 L642.20 206.29 L643.20 205.62 L644.20 204.95 L645.20 204.27 L646.20 203.58 L647.20 202.88 L648.20 202.17 L649.20 201.46 L650.20 200.74 L651.20 200.00 L652.20 199.27 L653.20 198.52 L654.20 197.77 L655.20 197.00 L656.20 196.23 L657.20 195.46 L658.20 194.67 L659.20 193.88 L660.20 193.08 L661.20 192.28 L662.20 191.47 L663.20 190.65 L664.20 189.82 L665.20 188.99 L666.20 188.15 L667.20 187.30 L668.20 186.45 L669.20 185.59 L670.20 184.72 L671.20 183.85 L672.20 182.97 L673.20 182.08 L674.20 181.19 L675.20 180.30 L676.20 179.39 L677.20 178.49 L678.20 177.57 L679.20 176.65 L680.20 175.73 L681.20 174.80 L682.20 173.86 L683.20 172.92 L684.20 171.97 L685.20 171.02 L686.20 170.06 L687.20 169.10 L688.20 168.14 L689.20 167.16 L690.20 166.19 L691.20 165.21 L692.20 164.22 L693.20 163.23 L694.20 162.24 L695.20 161.24 L696.20 160.24 L697.20 159.23 L698.20 158.22 L699.20 157.21 L700.20 156.19 L701.20 155.17 L702.20 154.14 L703.20 153.11 L704.20 152.08 L705.20 151.04 L706.20 150.00 L707.20 148.96 L708.20 147.91 L709.20 146.87 L710.20 145.81 L711.20 144.76 L712.20 143.70 L713.20 142.64 L714.20 141.58 L715.20 140.51 L716.20 139.44 L717.20 138.37 L718.20 137.30 L719.20 136.22 L720.20 135.14 L721.20 134.06 L722.20 132.98 L723.20 131.90 L724.20 130.81 L725.20 129.72 L726.20 128.63 L727.20 127.54 L728.20 126.45 L729.20 125.36 L730.20 124.26 L731.20 123.17 L732.20 122.07 L732.50 121.74" fill="none" stroke="#0000ff" stroke-width="2.45" stroke-linejoin="round" stroke-linecap="butt" />
</g>
<path d="M732.5 15.6 L579.2 15.6 L579.2 231.7 L732.5 231.7" fill="none" stroke="#000" stroke-width="1.6" stroke-linecap="square"/>
<line x1="732.5" y1="14.8" x2="732.5" y2="232.5" stroke="#0000ff" stroke-width="1.6"/>
<text x="26.5" y="20" font-size="14.0" text-anchor="start" fill="#000" font-weight="bold" >(a)</text>
<text x="67.8" y="20.6" font-size="13.0" text-anchor="end">10<tspan font-size="8.0" dy="-3.5">-3</tspan></text>
<text x="67.8" y="79.1" font-size="13.0" text-anchor="end">10<tspan font-size="8.0" dy="-3.5">-4</tspan></text>
<text x="67.8" y="137.6" font-size="13.0" text-anchor="end">10<tspan font-size="8.0" dy="-3.5">-5</tspan></text>
<text x="67.8" y="196.1" font-size="13.0" text-anchor="end">10<tspan font-size="8.0" dy="-3.5">-6</tspan></text>
<text x="230" y="236.6" font-size="13.0" text-anchor="start" fill="#0000ff" font-weight="normal" >0.0</text>
<text x="230" y="128.4" font-size="13.0" text-anchor="start" fill="#0000ff" font-weight="normal" >2.0E-2</text>
<text x="230" y="20.2" font-size="13.0" text-anchor="start" fill="#0000ff" font-weight="normal" >4.0E-2</text>
<text x="90.28" y="245.6" font-size="13.0" text-anchor="middle" fill="#000" font-weight="normal" >0</text>
<text x="128.82" y="245.6" font-size="13.0" text-anchor="middle" fill="#000" font-weight="normal" >20</text>
<text x="167.38" y="245.6" font-size="13.0" text-anchor="middle" fill="#000" font-weight="normal" >40</text>
<text x="205.92" y="245.6" font-size="13.0" text-anchor="middle" fill="#000" font-weight="normal" >60</text>
<text x="133.6" y="257.5" font-size="13.4"><tspan font-style="italic">V</tspan><tspan font-size="8.0" dy="4" dx="-0.8">G</tspan><tspan dy="-4"> (V)</tspan></text>
<text transform="translate(39.5 131.0) rotate(-90)" x="0" y="0" font-size="13.4" text-anchor="middle">-<tspan font-style="italic">I</tspan><tspan font-size="8.0" dy="3">S</tspan><tspan dy="-3"> (A)</tspan></text>
<text x="135.5" y="52.1" font-size="12.9" font-weight="bold" fill="#ff8000"><tspan font-style="italic">V</tspan><tspan font-size="8.0" dy="4">D</tspan><tspan dy="-4">=70 V</tspan></text>
<text x="165" y="118.7" font-size="12.9" font-weight="bold" fill="#ff0000"><tspan font-style="italic">V</tspan><tspan font-size="8.0" dy="4">D</tspan><tspan dy="-4">=10 V</tspan></text>
<text x="134" y="222.6" font-size="12.9" font-weight="bold" fill="#0000ff">Sqrt (<tspan font-style="italic">V</tspan><tspan font-size="8.0" dy="4">D</tspan><tspan dy="-4">=70 V)</tspan></text>
<ellipse cx="135" cy="120" rx="7.5" ry="17.75" fill="none" stroke="#000" stroke-width="1.4" stroke-dasharray="4 2.6" transform="rotate(2 135 120)"/>
<line x1="136.5" y1="102" x2="119.9" y2="102" stroke="#000" stroke-width="1.5"/>
<path d="M111.4 102 L121.9 98.9 L120.4 102 L121.9 105.1 Z" fill="#000"/>
<ellipse cx="177.2" cy="176.2" rx="7.5" ry="17.5" fill="none" stroke="#000" stroke-width="1.4" stroke-dasharray="4 2.6" transform="rotate(-3 177.2 176.2)"/>
<line x1="177.6" y1="194.2" x2="193.5" y2="194.2" stroke="#000" stroke-width="1.5"/>
<path d="M202 194.2 L191.5 191.1 L193 194.2 L191.5 197.3 Z" fill="#000"/>
<text x="278.5" y="20" font-size="14.0" text-anchor="start" fill="#000" font-weight="bold" >(b)</text>
<text x="321.6" y="20.6" font-size="13.0" text-anchor="end">10<tspan font-size="8.0" dy="-3.5">-4</tspan></text>
<text x="321.6" y="72.5" font-size="13.0" text-anchor="end">10<tspan font-size="8.0" dy="-3.5">-5</tspan></text>
<text x="321.6" y="124.4" font-size="13.0" text-anchor="end">10<tspan font-size="8.0" dy="-3.5">-6</tspan></text>
<text x="321.6" y="176.3" font-size="13.0" text-anchor="end">10<tspan font-size="8.0" dy="-3.5">-7</tspan></text>
<text x="321.6" y="228.2" font-size="13.0" text-anchor="end">10<tspan font-size="8.0" dy="-3.5">-8</tspan></text>
<text x="484.2" y="236.2" font-size="13.0" text-anchor="start" fill="#0000ff" font-weight="normal" >0.0</text>
<text x="484.2" y="193" font-size="13.0" text-anchor="start" fill="#0000ff" font-weight="normal" >4.0E-3</text>
<text x="484.2" y="149.8" font-size="13.0" text-anchor="start" fill="#0000ff" font-weight="normal" >8.0E-3</text>
<text x="484.2" y="106.6" font-size="13.0" text-anchor="start" fill="#0000ff" font-weight="normal" >1.2E-2</text>
<text x="484.2" y="63.4" font-size="13.0" text-anchor="start" fill="#0000ff" font-weight="normal" >1.6E-2</text>
<text x="484.2" y="20.2" font-size="13.0" text-anchor="start" fill="#0000ff" font-weight="normal" >2.0E-2</text>
<text x="345.84" y="245.6" font-size="13.0" text-anchor="middle" fill="#000" font-weight="normal" >0</text>
<text x="384.31" y="245.6" font-size="13.0" text-anchor="middle" fill="#000" font-weight="normal" >20</text>
<text x="422.79" y="245.6" font-size="13.0" text-anchor="middle" fill="#000" font-weight="normal" >40</text>
<text x="461.26" y="245.6" font-size="13.0" text-anchor="middle" fill="#000" font-weight="normal" >60</text>
<text x="385.4" y="258" font-size="13.4"><tspan font-style="italic">V</tspan><tspan font-size="8.0" dy="4" dx="-0.8">G</tspan><tspan dy="-4"> (V)</tspan></text>
<text x="373" y="52.2" font-size="12.9" font-weight="bold" fill="#ff8000"><tspan font-style="italic">V</tspan><tspan font-size="8.0" dy="4">D</tspan><tspan dy="-4">=70 V</tspan></text>
<text x="399.2" y="114.2" font-size="12.9" font-weight="bold" fill="#ff0000"><tspan font-style="italic">V</tspan><tspan font-size="8.0" dy="4">D</tspan><tspan dy="-4">=10 V</tspan></text>
<text x="390.4" y="224.4" font-size="12.9" font-weight="bold" fill="#0000ff">Sqrt (<tspan font-style="italic">V</tspan><tspan font-size="8.0" dy="4">D</tspan><tspan dy="-4">=70 V)</tspan></text>
<ellipse cx="375.5" cy="120.3" rx="7.6" ry="17.25" fill="none" stroke="#000" stroke-width="1.4" stroke-dasharray="4 2.6" transform="rotate(2 375.5 120.3)"/>
<line x1="377.2" y1="102.3" x2="360.1" y2="102.3" stroke="#000" stroke-width="1.5"/>
<path d="M351.6 102.3 L362.1 99.2 L360.6 102.3 L362.1 105.4 Z" fill="#000"/>
<ellipse cx="437" cy="177" rx="7.5" ry="17.25" fill="none" stroke="#000" stroke-width="1.4" stroke-dasharray="4 2.6" transform="rotate(2 437 177)"/>
<line x1="436.8" y1="195.5" x2="453.5" y2="195.5" stroke="#000" stroke-width="1.5"/>
<path d="M462 195.5 L451.5 192.4 L453 195.5 L451.5 198.6 Z" fill="#000"/>
<text x="533.2" y="20" font-size="14.0" text-anchor="start" fill="#000" font-weight="bold" >(c)</text>
<text x="574" y="20.6" font-size="13.0" text-anchor="end">10<tspan font-size="8.0" dy="-3.5">-3</tspan></text>
<text x="574" y="74.6" font-size="13.0" text-anchor="end">10<tspan font-size="8.0" dy="-3.5">-4</tspan></text>
<text x="574" y="128.6" font-size="13.0" text-anchor="end">10<tspan font-size="8.0" dy="-3.5">-5</tspan></text>
<text x="574" y="182.6" font-size="13.0" text-anchor="end">10<tspan font-size="8.0" dy="-3.5">-6</tspan></text>
<text x="574" y="236.6" font-size="13.0" text-anchor="end">10<tspan font-size="8.0" dy="-3.5">-7</tspan></text>
<text x="738" y="236.3" font-size="13.0" text-anchor="start" fill="#0000ff" font-weight="normal" >0.0</text>
<text x="738" y="193.08" font-size="13.0" text-anchor="start" fill="#0000ff" font-weight="normal" >1.0E-2</text>
<text x="738" y="149.86" font-size="13.0" text-anchor="start" fill="#0000ff" font-weight="normal" >2.0E-2</text>
<text x="738" y="106.64" font-size="13.0" text-anchor="start" fill="#0000ff" font-weight="normal" >3.0E-2</text>
<text x="738" y="63.42" font-size="13.0" text-anchor="start" fill="#0000ff" font-weight="normal" >4.0E-2</text>
<text x="738" y="20.2" font-size="13.0" text-anchor="start" fill="#0000ff" font-weight="normal" >5.0E-2</text>
<text x="598.36" y="245.6" font-size="13.0" text-anchor="middle" fill="#000" font-weight="normal" >0</text>
<text x="636.69" y="245.6" font-size="13.0" text-anchor="middle" fill="#000" font-weight="normal" >20</text>
<text x="675.01" y="245.6" font-size="13.0" text-anchor="middle" fill="#000" font-weight="normal" >40</text>
<text x="713.34" y="245.6" font-size="13.0" text-anchor="middle" fill="#000" font-weight="normal" >60</text>
<text x="638.4" y="258" font-size="13.4"><tspan font-style="italic">V</tspan><tspan font-size="8.0" dy="4" dx="-0.8">G</tspan><tspan dy="-4"> (V)</tspan></text>
<text x="624.6" y="51.4" font-size="12.9" font-weight="bold" fill="#ff8000"><tspan font-style="italic">V</tspan><tspan font-size="8.0" dy="4">D</tspan><tspan dy="-4">=70 V</tspan></text>
<text x="658.3" y="114" font-size="12.9" font-weight="bold" fill="#ff0000"><tspan font-style="italic">V</tspan><tspan font-size="8.0" dy="4">D</tspan><tspan dy="-4">=10 V</tspan></text>
<text x="641" y="221.4" font-size="12.9" font-weight="bold" fill="#0000ff">Sqrt (<tspan font-style="italic">V</tspan><tspan font-size="8.0" dy="4">D</tspan><tspan dy="-4">=70 V)</tspan></text>
<ellipse cx="630.3" cy="120.3" rx="7.7" ry="17.75" fill="none" stroke="#000" stroke-width="1.4" stroke-dasharray="4 2.6" transform="rotate(2 630.3 120.3)"/>
<line x1="631.4" y1="102" x2="614.9" y2="102" stroke="#000" stroke-width="1.5"/>
<path d="M606.4 102 L616.9 98.9 L615.4 102 L616.9 105.1 Z" fill="#000"/>
<ellipse cx="678.6" cy="177.6" rx="7.7" ry="17.35" fill="none" stroke="#000" stroke-width="1.4" stroke-dasharray="4 2.6" transform="rotate(2 678.6 177.6)"/>
<line x1="679" y1="195.6" x2="695.5" y2="195.6" stroke="#000" stroke-width="1.5"/>
<path d="M704 195.6 L693.5 192.5 L695 195.6 L693.5 198.7 Z" fill="#000"/>
<text transform="translate(783.6 122.7) rotate(90)" x="0" y="0" font-size="13.4" text-anchor="middle" fill="#0000ff">Sqrt (-<tspan font-style="italic">I</tspan><tspan font-size="8.0" dy="3">S</tspan><tspan dy="-3">) (A</tspan><tspan font-size="8.0" dy="-4.4">1/2</tspan><tspan dy="4.4">)</tspan></text>
<line x1="82.94" y1="488.7" x2="82.94" y2="486.7" stroke="#000" stroke-width="1.1"/>
<line x1="82.94" y1="272.7" x2="82.94" y2="274.7" stroke="#000" stroke-width="1.1"/>
<line x1="93.89" y1="488.7" x2="93.89" y2="485.7" stroke="#000" stroke-width="1.1"/>
<line x1="93.89" y1="272.7" x2="93.89" y2="275.7" stroke="#000" stroke-width="1.1"/>
<line x1="104.83" y1="488.7" x2="104.83" y2="486.7" stroke="#000" stroke-width="1.1"/>
<line x1="104.83" y1="272.7" x2="104.83" y2="274.7" stroke="#000" stroke-width="1.1"/>
<line x1="115.77" y1="488.7" x2="115.77" y2="485.7" stroke="#000" stroke-width="1.1"/>
<line x1="115.77" y1="272.7" x2="115.77" y2="275.7" stroke="#000" stroke-width="1.1"/>
<line x1="126.71" y1="488.7" x2="126.71" y2="486.7" stroke="#000" stroke-width="1.1"/>
<line x1="126.71" y1="272.7" x2="126.71" y2="274.7" stroke="#000" stroke-width="1.1"/>
<line x1="137.66" y1="488.7" x2="137.66" y2="485.7" stroke="#000" stroke-width="1.1"/>
<line x1="137.66" y1="272.7" x2="137.66" y2="275.7" stroke="#000" stroke-width="1.1"/>
<line x1="148.6" y1="488.7" x2="148.6" y2="486.7" stroke="#000" stroke-width="1.1"/>
<line x1="148.6" y1="272.7" x2="148.6" y2="274.7" stroke="#000" stroke-width="1.1"/>
<line x1="159.54" y1="488.7" x2="159.54" y2="485.7" stroke="#000" stroke-width="1.1"/>
<line x1="159.54" y1="272.7" x2="159.54" y2="275.7" stroke="#000" stroke-width="1.1"/>
<line x1="170.49" y1="488.7" x2="170.49" y2="486.7" stroke="#000" stroke-width="1.1"/>
<line x1="170.49" y1="272.7" x2="170.49" y2="274.7" stroke="#000" stroke-width="1.1"/>
<line x1="181.43" y1="488.7" x2="181.43" y2="485.7" stroke="#000" stroke-width="1.1"/>
<line x1="181.43" y1="272.7" x2="181.43" y2="275.7" stroke="#000" stroke-width="1.1"/>
<line x1="192.37" y1="488.7" x2="192.37" y2="486.7" stroke="#000" stroke-width="1.1"/>
<line x1="192.37" y1="272.7" x2="192.37" y2="274.7" stroke="#000" stroke-width="1.1"/>
<line x1="203.31" y1="488.7" x2="203.31" y2="485.7" stroke="#000" stroke-width="1.1"/>
<line x1="203.31" y1="272.7" x2="203.31" y2="275.7" stroke="#000" stroke-width="1.1"/>
<line x1="214.26" y1="488.7" x2="214.26" y2="486.7" stroke="#000" stroke-width="1.1"/>
<line x1="214.26" y1="272.7" x2="214.26" y2="274.7" stroke="#000" stroke-width="1.1"/>
<line x1="72" y1="452.7" x2="74.5" y2="452.7" stroke="#000" stroke-width="1.1"/>
<line x1="225.2" y1="452.7" x2="222.7" y2="452.7" stroke="#000" stroke-width="1.1"/>
<line x1="72" y1="416.7" x2="74.5" y2="416.7" stroke="#000" stroke-width="1.1"/>
<line x1="225.2" y1="416.7" x2="222.7" y2="416.7" stroke="#000" stroke-width="1.1"/>
<line x1="72" y1="380.7" x2="74.5" y2="380.7" stroke="#000" stroke-width="1.1"/>
<line x1="225.2" y1="380.7" x2="222.7" y2="380.7" stroke="#000" stroke-width="1.1"/>
<line x1="72" y1="344.7" x2="74.5" y2="344.7" stroke="#000" stroke-width="1.1"/>
<line x1="225.2" y1="344.7" x2="222.7" y2="344.7" stroke="#000" stroke-width="1.1"/>
<line x1="72" y1="308.7" x2="74.5" y2="308.7" stroke="#000" stroke-width="1.1"/>
<line x1="225.2" y1="308.7" x2="222.7" y2="308.7" stroke="#000" stroke-width="1.1"/>
<clipPath id="clipd"><rect x="72.0" y="272.7" width="154.2" height="217.0"/></clipPath>
<g clip-path="url(#clipd)">
<path d="M72.00 488.70 L72.25 488.68 L72.50 488.66 L72.75 488.64 L73.00 488.62 L73.25 488.60 L73.50 488.58 L73.75 488.57 L74.00 488.55 L74.25 488.53 L74.50 488.51 L74.75 488.50 L75.00 488.48 L75.25 488.46 L75.50 488.44 L75.75 488.43 L76.00 488.41 L77.00 488.35 L78.00 488.29 L79.00 488.23 L80.00 488.18 L81.00 488.12 L82.00 488.07 L83.00 488.03 L84.00 487.98 L85.00 487.94 L86.00 487.90 L87.00 487.86 L88.00 487.82 L89.00 487.79 L90.00 487.76 L91.00 487.72 L92.00 487.69 L93.00 487.66 L94.00 487.64 L95.00 487.61 L96.00 487.59 L97.00 487.56 L98.00 487.54 L99.00 487.52 L100.00 487.50 L101.00 487.48 L102.00 487.46 L103.00 487.45 L104.00 487.43 L105.00 487.41 L106.00 487.40 L107.00 487.38 L108.00 487.37 L109.00 487.36 L110.00 487.35 L111.00 487.33 L112.00 487.32 L113.00 487.31 L114.00 487.30 L115.00 487.29 L116.00 487.28 L117.00 487.27 L118.00 487.27 L119.00 487.26 L120.00 487.25 L121.00 487.24 L122.00 487.24 L123.00 487.23 L124.00 487.22 L125.00 487.22 L126.00 487.21 L127.00 487.21 L128.00 487.20 L129.00 487.20 L130.00 487.19 L131.00 487.19 L132.00 487.18 L133.00 487.18 L134.00 487.18 L135.00 487.17 L136.00 487.17 L137.00 487.17 L138.00 487.16 L139.00 487.16 L140.00 487.16 L141.00 487.16 L142.00 487.15 L143.00 487.15 L144.00 487.15 L145.00 487.15 L146.00 487.14 L147.00 487.14 L148.00 487.14 L149.00 487.14 L150.00 487.14 L151.00 487.14 L152.00 487.13 L153.00 487.13 L154.00 487.13 L155.00 487.13 L156.00 487.13 L157.00 487.13 L158.00 487.13 L159.00 487.12 L160.00 487.12 L161.00 487.12 L162.00 487.12 L163.00 487.12 L164.00 487.12 L165.00 487.12 L166.00 487.12 L167.00 487.12 L168.00 487.12 L169.00 487.12 L170.00 487.11 L171.00 487.11 L172.00 487.11 L173.00 487.11 L174.00 487.11 L175.00 487.11 L176.00 487.11 L177.00 487.11 L178.00 487.11 L179.00 487.11 L180.00 487.11 L181.00 487.11 L182.00 487.11 L183.00 487.11 L184.00 487.11 L185.00 487.11 L186.00 487.11 L187.00 487.11 L188.00 487.11 L189.00 487.11 L190.00 487.11 L191.00 487.11 L192.00 487.11 L193.00 487.11 L194.00 487.10 L195.00 487.10 L196.00 487.10 L197.00 487.10 L198.00 487.10 L199.00 487.10 L200.00 487.10 L201.00 487.10 L202.00 487.10 L203.00 487.10 L204.00 487.10 L205.00 487.10 L206.00 487.10 L207.00 487.10 L208.00 487.10 L209.00 487.10 L210.00 487.10 L211.00 487.10 L212.00 487.10 L213.00 487.10 L214.00 487.10 L215.00 487.10 L216.00 487.10 L217.00 487.10 L218.00 487.10 L219.00 487.10 L220.00 487.10 L221.00 487.10 L222.00 487.10 L223.00 487.10 L224.00 487.10 L225.00 487.10 L225.20 487.10" fill="none" stroke="#ff0000" stroke-width="2.4" stroke-linejoin="round" stroke-linecap="butt" />
<path d="M72.00 488.70 L72.25 488.58 L72.50 488.46 L72.75 488.35 L73.00 488.24 L73.25 488.13 L73.50 488.03 L73.75 487.93 L74.00 487.84 L74.25 487.75 L74.50 487.66 L74.75 487.58 L75.00 487.50 L75.25 487.42 L75.50 487.35 L75.75 487.28 L76.00 487.21 L77.00 486.96 L78.00 486.75 L79.00 486.57 L80.00 486.41 L81.00 486.28 L82.00 486.16 L83.00 486.06 L84.00 485.97 L85.00 485.90 L86.00 485.83 L87.00 485.78 L88.00 485.73 L89.00 485.68 L90.00 485.65 L91.00 485.61 L92.00 485.58 L93.00 485.56 L94.00 485.53 L95.00 485.51 L96.00 485.49 L97.00 485.48 L98.00 485.46 L99.00 485.44 L100.00 485.43 L101.00 485.42 L102.00 485.41 L103.00 485.39 L104.00 485.38 L105.00 485.37 L106.00 485.36 L107.00 485.35 L108.00 485.34 L109.00 485.33 L110.00 485.32 L111.00 485.32 L112.00 485.31 L113.00 485.30 L114.00 485.29 L115.00 485.28 L116.00 485.27 L117.00 485.27 L118.00 485.26 L119.00 485.25 L120.00 485.24 L121.00 485.23 L122.00 485.23 L123.00 485.22 L124.00 485.21 L125.00 485.20 L126.00 485.19 L127.00 485.19 L128.00 485.18 L129.00 485.17 L130.00 485.16 L131.00 485.15 L132.00 485.15 L133.00 485.14 L134.00 485.13 L135.00 485.12 L136.00 485.12 L137.00 485.11 L138.00 485.10 L139.00 485.09 L140.00 485.08 L141.00 485.08 L142.00 485.07 L143.00 485.06 L144.00 485.05 L145.00 485.05 L146.00 485.04 L147.00 485.03 L148.00 485.02 L149.00 485.01 L150.00 485.01 L151.00 485.00 L152.00 484.99 L153.00 484.98 L154.00 484.98 L155.00 484.97 L156.00 484.96 L157.00 484.95 L158.00 484.94 L159.00 484.94 L160.00 484.93 L161.00 484.92 L162.00 484.91 L163.00 484.91 L164.00 484.90 L165.00 484.89 L166.00 484.88 L167.00 484.88 L168.00 484.87 L169.00 484.86 L170.00 484.85 L171.00 484.84 L172.00 484.84 L173.00 484.83 L174.00 484.82 L175.00 484.81 L176.00 484.81 L177.00 484.80 L178.00 484.79 L179.00 484.78 L180.00 484.77 L181.00 484.77 L182.00 484.76 L183.00 484.75 L184.00 484.74 L185.00 484.74 L186.00 484.73 L187.00 484.72 L188.00 484.71 L189.00 484.70 L190.00 484.70 L191.00 484.69 L192.00 484.68 L193.00 484.67 L194.00 484.67 L195.00 484.66 L196.00 484.65 L197.00 484.64 L198.00 484.63 L199.00 484.63 L200.00 484.62 L201.00 484.61 L202.00 484.60 L203.00 484.60 L204.00 484.59 L205.00 484.58 L206.00 484.57 L207.00 484.56 L208.00 484.56 L209.00 484.55 L210.00 484.54 L211.00 484.53 L212.00 484.53 L213.00 484.52 L214.00 484.51 L215.00 484.50 L216.00 484.49 L217.00 484.49 L218.00 484.48 L219.00 484.47 L220.00 484.46 L221.00 484.46 L222.00 484.45 L223.00 484.44 L224.00 484.43 L225.00 484.42 L225.20 484.42" fill="none" stroke="#0000ff" stroke-width="2.4" stroke-linejoin="round" stroke-linecap="butt" />
<path d="M72.00 488.70 L72.25 488.53 L72.50 488.35 L72.75 488.19 L73.00 488.02 L73.25 487.86 L73.50 487.70 L73.75 487.55 L74.00 487.39 L74.25 487.25 L74.50 487.10 L74.75 486.96 L75.00 486.81 L75.25 486.68 L75.50 486.54 L75.75 486.41 L76.00 486.28 L77.00 485.78 L78.00 485.32 L79.00 484.89 L80.00 484.50 L81.00 484.14 L82.00 483.80 L83.00 483.48 L84.00 483.19 L85.00 482.92 L86.00 482.67 L87.00 482.44 L88.00 482.22 L89.00 482.02 L90.00 481.84 L91.00 481.66 L92.00 481.50 L93.00 481.35 L94.00 481.21 L95.00 481.08 L96.00 480.95 L97.00 480.84 L98.00 480.73 L99.00 480.63 L100.00 480.54 L101.00 480.45 L102.00 480.37 L103.00 480.29 L104.00 480.22 L105.00 480.15 L106.00 480.08 L107.00 480.02 L108.00 479.96 L109.00 479.91 L110.00 479.86 L111.00 479.81 L112.00 479.76 L113.00 479.71 L114.00 479.67 L115.00 479.63 L116.00 479.59 L117.00 479.55 L118.00 479.52 L119.00 479.48 L120.00 479.45 L121.00 479.42 L122.00 479.38 L123.00 479.35 L124.00 479.32 L125.00 479.29 L126.00 479.27 L127.00 479.24 L128.00 479.21 L129.00 479.19 L130.00 479.16 L131.00 479.14 L132.00 479.11 L133.00 479.09 L134.00 479.06 L135.00 479.04 L136.00 479.02 L137.00 479.00 L138.00 478.97 L139.00 478.95 L140.00 478.93 L141.00 478.91 L142.00 478.89 L143.00 478.87 L144.00 478.85 L145.00 478.83 L146.00 478.80 L147.00 478.78 L148.00 478.76 L149.00 478.74 L150.00 478.72 L151.00 478.70 L152.00 478.68 L153.00 478.66 L154.00 478.65 L155.00 478.63 L156.00 478.61 L157.00 478.59 L158.00 478.57 L159.00 478.55 L160.00 478.53 L161.00 478.51 L162.00 478.49 L163.00 478.47 L164.00 478.45 L165.00 478.43 L166.00 478.41 L167.00 478.39 L168.00 478.38 L169.00 478.36 L170.00 478.34 L171.00 478.32 L172.00 478.30 L173.00 478.28 L174.00 478.26 L175.00 478.24 L176.00 478.22 L177.00 478.21 L178.00 478.19 L179.00 478.17 L180.00 478.15 L181.00 478.13 L182.00 478.11 L183.00 478.09 L184.00 478.07 L185.00 478.06 L186.00 478.04 L187.00 478.02 L188.00 478.00 L189.00 477.98 L190.00 477.96 L191.00 477.94 L192.00 477.92 L193.00 477.91 L194.00 477.89 L195.00 477.87 L196.00 477.85 L197.00 477.83 L198.00 477.81 L199.00 477.79 L200.00 477.78 L201.00 477.76 L202.00 477.74 L203.00 477.72 L204.00 477.70 L205.00 477.68 L206.00 477.66 L207.00 477.64 L208.00 477.63 L209.00 477.61 L210.00 477.59 L211.00 477.57 L212.00 477.55 L213.00 477.53 L214.00 477.51 L215.00 477.50 L216.00 477.48 L217.00 477.46 L218.00 477.44 L219.00 477.42 L220.00 477.40 L221.00 477.38 L222.00 477.36 L223.00 477.35 L224.00 477.33 L225.00 477.31 L225.20 477.30" fill="none" stroke="#800000" stroke-width="2.4" stroke-linejoin="round" stroke-linecap="butt" />
<path d="M72.00 488.70 L72.25 488.47 L72.50 488.24 L72.75 488.01 L73.00 487.79 L73.25 487.57 L73.50 487.35 L73.75 487.13 L74.00 486.92 L74.25 486.71 L74.50 486.50 L74.75 486.29 L75.00 486.08 L75.25 485.88 L75.50 485.67 L75.75 485.47 L76.00 485.28 L77.00 484.51 L78.00 483.77 L79.00 483.05 L80.00 482.37 L81.00 481.72 L82.00 481.09 L83.00 480.48 L84.00 479.91 L85.00 479.35 L86.00 478.81 L87.00 478.30 L88.00 477.81 L89.00 477.33 L90.00 476.88 L91.00 476.44 L92.00 476.02 L93.00 475.62 L94.00 475.23 L95.00 474.85 L96.00 474.49 L97.00 474.15 L98.00 473.82 L99.00 473.50 L100.00 473.19 L101.00 472.89 L102.00 472.61 L103.00 472.34 L104.00 472.07 L105.00 471.82 L106.00 471.58 L107.00 471.34 L108.00 471.11 L109.00 470.90 L110.00 470.69 L111.00 470.48 L112.00 470.29 L113.00 470.10 L114.00 469.92 L115.00 469.74 L116.00 469.57 L117.00 469.41 L118.00 469.25 L119.00 469.10 L120.00 468.95 L121.00 468.81 L122.00 468.67 L123.00 468.54 L124.00 468.41 L125.00 468.29 L126.00 468.17 L127.00 468.05 L128.00 467.94 L129.00 467.83 L130.00 467.72 L131.00 467.62 L132.00 467.52 L133.00 467.43 L134.00 467.33 L135.00 467.24 L136.00 467.15 L137.00 467.07 L138.00 466.99 L139.00 466.90 L140.00 466.83 L141.00 466.75 L142.00 466.67 L143.00 466.60 L144.00 466.53 L145.00 466.46 L146.00 466.40 L147.00 466.33 L148.00 466.27 L149.00 466.20 L150.00 466.14 L151.00 466.08 L152.00 466.02 L153.00 465.97 L154.00 465.91 L155.00 465.86 L156.00 465.80 L157.00 465.75 L158.00 465.70 L159.00 465.65 L160.00 465.60 L161.00 465.55 L162.00 465.50 L163.00 465.46 L164.00 465.41 L165.00 465.37 L166.00 465.32 L167.00 465.28 L168.00 465.23 L169.00 465.19 L170.00 465.15 L171.00 465.11 L172.00 465.07 L173.00 465.03 L174.00 464.99 L175.00 464.95 L176.00 464.91 L177.00 464.87 L178.00 464.83 L179.00 464.80 L180.00 464.76 L181.00 464.72 L182.00 464.69 L183.00 464.65 L184.00 464.61 L185.00 464.58 L186.00 464.54 L187.00 464.51 L188.00 464.48 L189.00 464.44 L190.00 464.41 L191.00 464.37 L192.00 464.34 L193.00 464.31 L194.00 464.28 L195.00 464.24 L196.00 464.21 L197.00 464.18 L198.00 464.15 L199.00 464.11 L200.00 464.08 L201.00 464.05 L202.00 464.02 L203.00 463.99 L204.00 463.96 L205.00 463.93 L206.00 463.90 L207.00 463.86 L208.00 463.83 L209.00 463.80 L210.00 463.77 L211.00 463.74 L212.00 463.71 L213.00 463.68 L214.00 463.65 L215.00 463.62 L216.00 463.59 L217.00 463.56 L218.00 463.53 L219.00 463.51 L220.00 463.48 L221.00 463.45 L222.00 463.42 L223.00 463.39 L224.00 463.36 L225.00 463.33 L225.20 463.32" fill="none" stroke="#ff80ff" stroke-width="2.4" stroke-linejoin="round" stroke-linecap="butt" />
<path d="M72.00 488.40 L77.60 480.18 L78.60 479.33 L79.60 478.49 L80.60 477.66 L81.60 476.84 L82.60 476.04 L83.60 475.26 L84.60 474.48 L85.60 473.72 L86.60 472.97 L87.60 472.23 L88.60 471.51 L89.60 470.80 L90.60 470.10 L91.60 469.41 L92.60 468.73 L93.60 468.07 L94.60 467.42 L95.60 466.78 L96.60 466.15 L97.60 465.53 L98.60 464.92 L99.60 464.33 L100.60 463.75 L101.60 463.17 L102.60 462.61 L103.60 462.06 L104.60 461.52 L105.60 460.99 L106.60 460.47 L107.60 459.96 L108.60 459.46 L109.60 458.98 L110.60 458.50 L111.60 458.03 L112.60 457.57 L113.60 457.12 L114.60 456.68 L115.60 456.25 L116.60 455.83 L117.60 455.42 L118.60 455.01 L119.60 454.62 L120.60 454.23 L121.60 453.86 L122.60 453.49 L123.60 453.13 L124.60 452.78 L125.60 452.44 L126.60 452.10 L127.60 451.77 L128.60 451.46 L129.60 451.14 L130.60 450.84 L131.60 450.55 L132.60 450.26 L133.60 449.98 L134.60 449.70 L135.60 449.44 L136.60 449.18 L137.60 448.92 L138.60 448.68 L139.60 448.44 L140.60 448.21 L141.60 447.98 L142.60 447.76 L143.60 447.55 L144.60 447.34 L145.60 447.14 L146.60 446.94 L147.60 446.75 L148.60 446.57 L149.60 446.39 L150.60 446.21 L151.60 446.05 L152.60 445.88 L153.60 445.72 L154.60 445.57 L155.60 445.42 L156.60 445.28 L157.60 445.14 L158.60 445.01 L159.60 444.88 L160.60 444.75 L161.60 444.63 L162.60 444.51 L163.60 444.40 L164.60 444.29 L165.60 444.18 L166.60 444.08 L167.60 443.98 L168.60 443.88 L169.60 443.79 L170.60 443.70 L171.60 443.61 L172.60 443.53 L173.60 443.45 L174.60 443.37 L175.60 443.29 L176.60 443.22 L177.60 443.15 L178.60 443.08 L179.60 443.01 L180.60 442.95 L181.60 442.89 L182.60 442.82 L183.60 442.76 L184.60 442.71 L185.60 442.65 L186.60 442.59 L187.60 442.54 L188.60 442.49 L189.60 442.43 L190.60 442.38 L191.60 442.33 L192.60 442.28 L193.60 442.23 L194.60 442.18 L195.60 442.13 L196.60 442.09 L197.60 442.04 L198.60 441.99 L199.60 441.94 L200.60 441.89 L201.60 441.84 L202.60 441.79 L203.60 441.74 L204.60 441.69 L205.60 441.63 L206.60 441.58 L207.60 441.52 L208.60 441.47 L209.60 441.41 L210.60 441.35 L211.60 441.29 L212.60 441.23 L213.60 441.16 L214.60 441.10 L215.60 441.03 L216.60 440.96 L217.60 440.89 L218.60 440.81 L219.60 440.74 L220.60 440.66 L221.60 440.57 L222.60 440.49 L223.60 440.40 L224.60 440.31 L225.20 440.25" fill="none" stroke="#008000" stroke-width="2.4" stroke-linejoin="round" stroke-linecap="butt" />
<path d="M72.00 488.40 L73.00 482.62 L74.00 481.31 L75.00 480.03 L76.00 478.76 L77.00 477.50 L78.00 476.26 L79.00 475.04 L80.00 473.83 L81.00 472.64 L82.00 471.46 L83.00 470.30 L84.00 469.16 L85.00 468.03 L86.00 466.91 L87.00 465.81 L88.00 464.73 L89.00 463.66 L90.00 462.60 L91.00 461.56 L92.00 460.53 L93.00 459.52 L94.00 458.52 L95.00 457.53 L96.00 456.56 L97.00 455.61 L98.00 454.66 L99.00 453.73 L100.00 452.81 L101.00 451.91 L102.00 451.02 L103.00 450.14 L104.00 449.28 L105.00 448.43 L106.00 447.59 L107.00 446.76 L108.00 445.95 L109.00 445.14 L110.00 444.35 L111.00 443.58 L112.00 442.81 L113.00 442.06 L114.00 441.32 L115.00 440.59 L116.00 439.87 L117.00 439.16 L118.00 438.46 L119.00 437.78 L120.00 437.11 L121.00 436.44 L122.00 435.79 L123.00 435.15 L124.00 434.52 L125.00 433.90 L126.00 433.29 L127.00 432.69 L128.00 432.10 L129.00 431.52 L130.00 430.95 L131.00 430.39 L132.00 429.84 L133.00 429.30 L134.00 428.76 L135.00 428.24 L136.00 427.73 L137.00 427.23 L138.00 426.73 L139.00 426.24 L140.00 425.77 L141.00 425.30 L142.00 424.84 L143.00 424.38 L144.00 423.94 L145.00 423.50 L146.00 423.08 L147.00 422.66 L148.00 422.24 L149.00 421.84 L150.00 421.44 L151.00 421.05 L152.00 420.67 L153.00 420.30 L154.00 419.93 L155.00 419.57 L156.00 419.21 L157.00 418.86 L158.00 418.52 L159.00 418.19 L160.00 417.86 L161.00 417.54 L162.00 417.22 L163.00 416.91 L164.00 416.61 L165.00 416.31 L166.00 416.02 L167.00 415.73 L168.00 415.45 L169.00 415.17 L170.00 414.90 L171.00 414.64 L172.00 414.37 L173.00 414.12 L174.00 413.87 L175.00 413.62 L176.00 413.38 L177.00 413.14 L178.00 412.90 L179.00 412.67 L180.00 412.45 L181.00 412.23 L182.00 412.01 L183.00 411.79 L184.00 411.58 L185.00 411.38 L186.00 411.17 L187.00 410.97 L188.00 410.77 L189.00 410.58 L190.00 410.39 L191.00 410.20 L192.00 410.01 L193.00 409.83 L194.00 409.64 L195.00 409.46 L196.00 409.29 L197.00 409.11 L198.00 408.94 L199.00 408.76 L200.00 408.59 L201.00 408.43 L202.00 408.26 L203.00 408.09 L204.00 407.93 L205.00 407.76 L206.00 407.60 L207.00 407.44 L208.00 407.28 L209.00 407.12 L210.00 406.96 L211.00 406.80 L212.00 406.64 L213.00 406.48 L214.00 406.32 L215.00 406.16 L216.00 406.00 L217.00 405.84 L218.00 405.68 L219.00 405.52 L220.00 405.36 L221.00 405.20 L222.00 405.03 L223.00 404.87 L224.00 404.70 L225.00 404.54 L225.20 404.50" fill="none" stroke="#8000ff" stroke-width="2.4" stroke-linejoin="round" stroke-linecap="butt" />
<path d="M72.00 488.40 L72.80 477.26 L73.80 475.52 L74.80 473.80 L75.80 472.09 L76.80 470.41 L77.80 468.75 L78.80 467.11 L79.80 465.49 L80.80 463.88 L81.80 462.30 L82.80 460.74 L83.80 459.19 L84.80 457.67 L85.80 456.16 L86.80 454.67 L87.80 453.20 L88.80 451.75 L89.80 450.32 L90.80 448.90 L91.80 447.50 L92.80 446.12 L93.80 444.76 L94.80 443.41 L95.80 442.08 L96.80 440.76 L97.80 439.46 L98.80 438.18 L99.80 436.91 L100.80 435.66 L101.80 434.43 L102.80 433.21 L103.80 432.00 L104.80 430.81 L105.80 429.63 L106.80 428.47 L107.80 427.32 L108.80 426.19 L109.80 425.07 L110.80 423.96 L111.80 422.87 L112.80 421.79 L113.80 420.72 L114.80 419.67 L115.80 418.63 L116.80 417.60 L117.80 416.58 L118.80 415.58 L119.80 414.58 L120.80 413.60 L121.80 412.63 L122.80 411.67 L123.80 410.72 L124.80 409.79 L125.80 408.86 L126.80 407.94 L127.80 407.03 L128.80 406.14 L129.80 405.25 L130.80 404.37 L131.80 403.50 L132.80 402.65 L133.80 401.80 L134.80 400.95 L135.80 400.12 L136.80 399.30 L137.80 398.48 L138.80 397.67 L139.80 396.87 L140.80 396.08 L141.80 395.29 L142.80 394.51 L143.80 393.74 L144.80 392.97 L145.80 392.21 L146.80 391.46 L147.80 390.71 L148.80 389.97 L149.80 389.24 L150.80 388.51 L151.80 387.79 L152.80 387.07 L153.80 386.36 L154.80 385.66 L155.80 384.96 L156.80 384.27 L157.80 383.58 L158.80 382.90 L159.80 382.22 L160.80 381.56 L161.80 380.89 L162.80 380.23 L163.80 379.58 L164.80 378.93 L165.80 378.29 L166.80 377.65 L167.80 377.02 L168.80 376.39 L169.80 375.77 L170.80 375.16 L171.80 374.54 L172.80 373.94 L173.80 373.34 L174.80 372.74 L175.80 372.15 L176.80 371.56 L177.80 370.98 L178.80 370.40 L179.80 369.83 L180.80 369.26 L181.80 368.69 L182.80 368.13 L183.80 367.58 L184.80 367.02 L185.80 366.48 L186.80 365.93 L187.80 365.40 L188.80 364.86 L189.80 364.33 L190.80 363.80 L191.80 363.28 L192.80 362.76 L193.80 362.24 L194.80 361.73 L195.80 361.23 L196.80 360.72 L197.80 360.22 L198.80 359.72 L199.80 359.23 L200.80 358.74 L201.80 358.25 L202.80 357.77 L203.80 357.29 L204.80 356.81 L205.80 356.33 L206.80 355.86 L207.80 355.40 L208.80 354.93 L209.80 354.47 L210.80 354.01 L211.80 353.55 L212.80 353.10 L213.80 352.65 L214.80 352.20 L215.80 351.75 L216.80 351.31 L217.80 350.87 L218.80 350.43 L219.80 349.99 L220.80 349.56 L221.80 349.13 L222.80 348.70 L223.80 348.27 L224.80 347.84 L225.20 347.67" fill="none" stroke="#800080" stroke-width="2.4" stroke-linejoin="round" stroke-linecap="butt" />
<path d="M72 488 L225.2 488" fill="none" stroke="#000000" stroke-width="1.7" stroke-linejoin="round" stroke-linecap="butt" />
</g>
<line x1="93.89" y1="488.7" x2="93.89" y2="485.7" stroke="#000" stroke-width="1.1"/>
<line x1="115.77" y1="488.7" x2="115.77" y2="485.7" stroke="#000" stroke-width="1.1"/>
<line x1="137.66" y1="488.7" x2="137.66" y2="485.7" stroke="#000" stroke-width="1.1"/>
<line x1="159.54" y1="488.7" x2="159.54" y2="485.7" stroke="#000" stroke-width="1.1"/>
<line x1="181.43" y1="488.7" x2="181.43" y2="485.7" stroke="#000" stroke-width="1.1"/>
<line x1="203.31" y1="488.7" x2="203.31" y2="485.7" stroke="#000" stroke-width="1.1"/>
<path d="M225.2 272.7 L72 272.7 L72 488.7 L225.2 488.7" fill="none" stroke="#000" stroke-width="1.6" stroke-linecap="square"/>
<line x1="225.2" y1="271.9" x2="225.2" y2="489.5" stroke="#000" stroke-width="1.6"/>
<text x="0.9" y="278" font-size="14.0" text-anchor="start" fill="#000" font-weight="bold" >(d)</text>
<text x="63.6" y="458.5" font-size="13.0" text-anchor="end" fill="#000" font-weight="normal" >-1.0E-4</text>
<text x="63.6" y="422.5" font-size="13.0" text-anchor="end" fill="#000" font-weight="normal" >-2.0E-4</text>
<text x="63.6" y="386.5" font-size="13.0" text-anchor="end" fill="#000" font-weight="normal" >-3.0E-4</text>
<text x="63.6" y="350.5" font-size="13.0" text-anchor="end" fill="#000" font-weight="normal" >-4.0E-4</text>
<text x="63.6" y="314.5" font-size="13.0" text-anchor="end" fill="#000" font-weight="normal" >-5.0E-4</text>
<text x="63.6" y="278.5" font-size="13.0" text-anchor="end" fill="#000" font-weight="normal" >-6.0E-4</text>
<text x="72" y="502.8" font-size="13.0" text-anchor="middle" fill="#000" font-weight="normal" >0</text>
<text x="115.77" y="502.8" font-size="13.0" text-anchor="middle" fill="#000" font-weight="normal" >20</text>
<text x="159.54" y="502.8" font-size="13.0" text-anchor="middle" fill="#000" font-weight="normal" >40</text>
<text x="203.31" y="502.8" font-size="13.0" text-anchor="middle" fill="#000" font-weight="normal" >60</text>
<text x="134.8" y="516.8" font-size="13.4"><tspan font-style="italic">V</tspan><tspan font-size="8.0" dy="4" dx="-0.8">D</tspan><tspan dy="-4"> (V)</tspan></text>
<text transform="translate(13.8 382.5) rotate(-90)" x="0" y="0" font-size="13.4" text-anchor="middle"><tspan font-style="italic">I</tspan><tspan font-size="8.0" dy="3">S</tspan><tspan dy="-3"> (A)</tspan></text>
<line x1="80.3" y1="286.7" x2="98.5" y2="286.7" stroke="#000000" stroke-width="2.4"/>
<text x="101.9" y="291.7" font-size="14.0" text-anchor="start" fill="#000" font-weight="normal" >0 V</text>
<line x1="80.3" y1="301.3" x2="98.5" y2="301.3" stroke="#ff0000" stroke-width="2.4"/>
<text x="101.9" y="306.3" font-size="14.0" text-anchor="start" fill="#000" font-weight="normal" >10 V</text>
<line x1="80.3" y1="315.9" x2="98.5" y2="315.9" stroke="#0000ff" stroke-width="2.4"/>
<text x="101.9" y="320.9" font-size="14.0" text-anchor="start" fill="#000" font-weight="normal" >20 V</text>
<line x1="80.3" y1="330.5" x2="98.5" y2="330.5" stroke="#800000" stroke-width="2.4"/>
<text x="101.9" y="335.5" font-size="14.0" text-anchor="start" fill="#000" font-weight="normal" >30 V</text>
<line x1="80.3" y1="345.1" x2="98.5" y2="345.1" stroke="#ff80ff" stroke-width="2.4"/>
<text x="101.9" y="350.1" font-size="14.0" text-anchor="start" fill="#000" font-weight="normal" >40 V</text>
<line x1="80.3" y1="359.7" x2="98.5" y2="359.7" stroke="#008000" stroke-width="2.4"/>
<text x="101.9" y="364.7" font-size="14.0" text-anchor="start" fill="#000" font-weight="normal" >50 V</text>
<line x1="80.3" y1="374.3" x2="98.5" y2="374.3" stroke="#8000ff" stroke-width="2.4"/>
<text x="101.9" y="379.3" font-size="14.0" text-anchor="start" fill="#000" font-weight="normal" >60 V</text>
<line x1="80.3" y1="388.9" x2="98.5" y2="388.9" stroke="#800080" stroke-width="2.4"/>
<text x="101.9" y="393.9" font-size="14.0" text-anchor="start" fill="#000" font-weight="normal" >70 V</text>
<line x1="337.54" y1="488.9" x2="337.54" y2="486.9" stroke="#000" stroke-width="1.1"/>
<line x1="337.54" y1="272.7" x2="337.54" y2="274.7" stroke="#000" stroke-width="1.1"/>
<line x1="348.49" y1="488.9" x2="348.49" y2="485.9" stroke="#000" stroke-width="1.1"/>
<line x1="348.49" y1="272.7" x2="348.49" y2="275.7" stroke="#000" stroke-width="1.1"/>
<line x1="359.43" y1="488.9" x2="359.43" y2="486.9" stroke="#000" stroke-width="1.1"/>
<line x1="359.43" y1="272.7" x2="359.43" y2="274.7" stroke="#000" stroke-width="1.1"/>
<line x1="370.37" y1="488.9" x2="370.37" y2="485.9" stroke="#000" stroke-width="1.1"/>
<line x1="370.37" y1="272.7" x2="370.37" y2="275.7" stroke="#000" stroke-width="1.1"/>
<line x1="381.31" y1="488.9" x2="381.31" y2="486.9" stroke="#000" stroke-width="1.1"/>
<line x1="381.31" y1="272.7" x2="381.31" y2="274.7" stroke="#000" stroke-width="1.1"/>
<line x1="392.26" y1="488.9" x2="392.26" y2="485.9" stroke="#000" stroke-width="1.1"/>
<line x1="392.26" y1="272.7" x2="392.26" y2="275.7" stroke="#000" stroke-width="1.1"/>
<line x1="403.2" y1="488.9" x2="403.2" y2="486.9" stroke="#000" stroke-width="1.1"/>
<line x1="403.2" y1="272.7" x2="403.2" y2="274.7" stroke="#000" stroke-width="1.1"/>
<line x1="414.14" y1="488.9" x2="414.14" y2="485.9" stroke="#000" stroke-width="1.1"/>
<line x1="414.14" y1="272.7" x2="414.14" y2="275.7" stroke="#000" stroke-width="1.1"/>
<line x1="425.09" y1="488.9" x2="425.09" y2="486.9" stroke="#000" stroke-width="1.1"/>
<line x1="425.09" y1="272.7" x2="425.09" y2="274.7" stroke="#000" stroke-width="1.1"/>
<line x1="436.03" y1="488.9" x2="436.03" y2="485.9" stroke="#000" stroke-width="1.1"/>
<line x1="436.03" y1="272.7" x2="436.03" y2="275.7" stroke="#000" stroke-width="1.1"/>
<line x1="446.97" y1="488.9" x2="446.97" y2="486.9" stroke="#000" stroke-width="1.1"/>
<line x1="446.97" y1="272.7" x2="446.97" y2="274.7" stroke="#000" stroke-width="1.1"/>
<line x1="457.91" y1="488.9" x2="457.91" y2="485.9" stroke="#000" stroke-width="1.1"/>
<line x1="457.91" y1="272.7" x2="457.91" y2="275.7" stroke="#000" stroke-width="1.1"/>
<line x1="468.86" y1="488.9" x2="468.86" y2="486.9" stroke="#000" stroke-width="1.1"/>
<line x1="468.86" y1="272.7" x2="468.86" y2="274.7" stroke="#000" stroke-width="1.1"/>
<line x1="326.6" y1="467.28" x2="329.1" y2="467.28" stroke="#000" stroke-width="1.1"/>
<line x1="479.8" y1="467.28" x2="477.3" y2="467.28" stroke="#000" stroke-width="1.1"/>
<line x1="326.6" y1="445.66" x2="329.1" y2="445.66" stroke="#000" stroke-width="1.1"/>
<line x1="479.8" y1="445.66" x2="477.3" y2="445.66" stroke="#000" stroke-width="1.1"/>
<line x1="326.6" y1="424.04" x2="329.1" y2="424.04" stroke="#000" stroke-width="1.1"/>
<line x1="479.8" y1="424.04" x2="477.3" y2="424.04" stroke="#000" stroke-width="1.1"/>
<line x1="326.6" y1="402.42" x2="329.1" y2="402.42" stroke="#000" stroke-width="1.1"/>
<line x1="479.8" y1="402.42" x2="477.3" y2="402.42" stroke="#000" stroke-width="1.1"/>
<line x1="326.6" y1="380.8" x2="329.1" y2="380.8" stroke="#000" stroke-width="1.1"/>
<line x1="479.8" y1="380.8" x2="477.3" y2="380.8" stroke="#000" stroke-width="1.1"/>
<line x1="326.6" y1="359.18" x2="329.1" y2="359.18" stroke="#000" stroke-width="1.1"/>
<line x1="479.8" y1="359.18" x2="477.3" y2="359.18" stroke="#000" stroke-width="1.1"/>
<line x1="326.6" y1="337.56" x2="329.1" y2="337.56" stroke="#000" stroke-width="1.1"/>
<line x1="479.8" y1="337.56" x2="477.3" y2="337.56" stroke="#000" stroke-width="1.1"/>
<line x1="326.6" y1="315.94" x2="329.1" y2="315.94" stroke="#000" stroke-width="1.1"/>
<line x1="479.8" y1="315.94" x2="477.3" y2="315.94" stroke="#000" stroke-width="1.1"/>
<line x1="326.6" y1="294.32" x2="329.1" y2="294.32" stroke="#000" stroke-width="1.1"/>
<line x1="479.8" y1="294.32" x2="477.3" y2="294.32" stroke="#000" stroke-width="1.1"/>
<clipPath id="clipe"><rect x="326.6" y="272.7" width="154.2" height="217.2"/></clipPath>
<g clip-path="url(#clipe)">
<path d="M326.60 488.90 L326.85 488.87 L327.10 488.84 L327.35 488.81 L327.60 488.79 L327.85 488.76 L328.10 488.73 L328.35 488.70 L328.60 488.68 L328.85 488.65 L329.10 488.63 L329.35 488.60 L329.60 488.58 L329.85 488.55 L330.10 488.53 L330.35 488.50 L330.60 488.48 L331.60 488.38 L332.60 488.30 L333.60 488.21 L334.60 488.13 L335.60 488.05 L336.60 487.98 L337.60 487.91 L338.60 487.85 L339.60 487.78 L340.60 487.73 L341.60 487.67 L342.60 487.61 L343.60 487.56 L344.60 487.51 L345.60 487.47 L346.60 487.42 L347.60 487.38 L348.60 487.34 L349.60 487.30 L350.60 487.27 L351.60 487.23 L352.60 487.20 L353.60 487.17 L354.60 487.14 L355.60 487.11 L356.60 487.08 L357.60 487.06 L358.60 487.03 L359.60 487.01 L360.60 486.99 L361.60 486.97 L362.60 486.95 L363.60 486.93 L364.60 486.91 L365.60 486.89 L366.60 486.87 L367.60 486.86 L368.60 486.84 L369.60 486.83 L370.60 486.81 L371.60 486.80 L372.60 486.79 L373.60 486.78 L374.60 486.77 L375.60 486.76 L376.60 486.75 L377.60 486.74 L378.60 486.73 L379.60 486.72 L380.60 486.71 L381.60 486.70 L382.60 486.69 L383.60 486.69 L384.60 486.68 L385.60 486.67 L386.60 486.66 L387.60 486.66 L388.60 486.65 L389.60 486.65 L390.60 486.64 L391.60 486.64 L392.60 486.63 L393.60 486.63 L394.60 486.62 L395.60 486.62 L396.60 486.61 L397.60 486.61 L398.60 486.61 L399.60 486.60 L400.60 486.60 L401.60 486.60 L402.60 486.59 L403.60 486.59 L404.60 486.59 L405.60 486.58 L406.60 486.58 L407.60 486.58 L408.60 486.58 L409.60 486.57 L410.60 486.57 L411.60 486.57 L412.60 486.57 L413.60 486.56 L414.60 486.56 L415.60 486.56 L416.60 486.56 L417.60 486.56 L418.60 486.56 L419.60 486.55 L420.60 486.55 L421.60 486.55 L422.60 486.55 L423.60 486.55 L424.60 486.55 L425.60 486.54 L426.60 486.54 L427.60 486.54 L428.60 486.54 L429.60 486.54 L430.60 486.54 L431.60 486.54 L432.60 486.54 L433.60 486.53 L434.60 486.53 L435.60 486.53 L436.60 486.53 L437.60 486.53 L438.60 486.53 L439.60 486.53 L440.60 486.53 L441.60 486.53 L442.60 486.53 L443.60 486.53 L444.60 486.52 L445.60 486.52 L446.60 486.52 L447.60 486.52 L448.60 486.52 L449.60 486.52 L450.60 486.52 L451.60 486.52 L452.60 486.52 L453.60 486.52 L454.60 486.52 L455.60 486.52 L456.60 486.51 L457.60 486.51 L458.60 486.51 L459.60 486.51 L460.60 486.51 L461.60 486.51 L462.60 486.51 L463.60 486.51 L464.60 486.51 L465.60 486.51 L466.60 486.51 L467.60 486.51 L468.60 486.51 L469.60 486.51 L470.60 486.51 L471.60 486.51 L472.60 486.50 L473.60 486.50 L474.60 486.50 L475.60 486.50 L476.60 486.50 L477.60 486.50 L478.60 486.50 L479.60 486.50 L479.80 486.50" fill="none" stroke="#ff0000" stroke-width="2.4" stroke-linejoin="round" stroke-linecap="butt" />
<path d="M326.60 488.90 L326.85 487.97 L327.10 487.26 L327.35 486.71 L327.60 486.29 L327.85 485.97 L328.10 485.72 L328.35 485.52 L328.60 485.38 L328.85 485.26 L329.10 485.17 L329.35 485.10 L329.60 485.05 L329.85 485.01 L330.10 484.98 L330.35 484.95 L330.60 484.93 L331.60 484.88 L332.60 484.86 L333.60 484.84 L334.60 484.83 L335.60 484.82 L336.60 484.81 L337.60 484.80 L338.60 484.79 L339.60 484.78 L340.60 484.77 L341.60 484.76 L342.60 484.75 L343.60 484.74 L344.60 484.73 L345.60 484.72 L346.60 484.71 L347.60 484.70 L348.60 484.69 L349.60 484.68 L350.60 484.66 L351.60 484.65 L352.60 484.64 L353.60 484.63 L354.60 484.62 L355.60 484.61 L356.60 484.60 L357.60 484.59 L358.60 484.58 L359.60 484.57 L360.60 484.56 L361.60 484.55 L362.60 484.54 L363.60 484.53 L364.60 484.52 L365.60 484.51 L366.60 484.50 L367.60 484.49 L368.60 484.48 L369.60 484.47 L370.60 484.46 L371.60 484.45 L372.60 484.44 L373.60 484.43 L374.60 484.42 L375.60 484.41 L376.60 484.40 L377.60 484.39 L378.60 484.38 L379.60 484.37 L380.60 484.36 L381.60 484.35 L382.60 484.34 L383.60 484.33 L384.60 484.32 L385.60 484.31 L386.60 484.30 L387.60 484.29 L388.60 484.27 L389.60 484.26 L390.60 484.25 L391.60 484.24 L392.60 484.23 L393.60 484.22 L394.60 484.21 L395.60 484.20 L396.60 484.19 L397.60 484.18 L398.60 484.17 L399.60 484.16 L400.60 484.15 L401.60 484.14 L402.60 484.13 L403.60 484.12 L404.60 484.11 L405.60 484.10 L406.60 484.09 L407.60 484.08 L408.60 484.07 L409.60 484.06 L410.60 484.05 L411.60 484.04 L412.60 484.03 L413.60 484.02 L414.60 484.01 L415.60 484.00 L416.60 483.99 L417.60 483.98 L418.60 483.97 L419.60 483.96 L420.60 483.95 L421.60 483.94 L422.60 483.93 L423.60 483.92 L424.60 483.91 L425.60 483.90 L426.60 483.88 L427.60 483.87 L428.60 483.86 L429.60 483.85 L430.60 483.84 L431.60 483.83 L432.60 483.82 L433.60 483.81 L434.60 483.80 L435.60 483.79 L436.60 483.78 L437.60 483.77 L438.60 483.76 L439.60 483.75 L440.60 483.74 L441.60 483.73 L442.60 483.72 L443.60 483.71 L444.60 483.70 L445.60 483.69 L446.60 483.68 L447.60 483.67 L448.60 483.66 L449.60 483.65 L450.60 483.64 L451.60 483.63 L452.60 483.62 L453.60 483.61 L454.60 483.60 L455.60 483.59 L456.60 483.58 L457.60 483.57 L458.60 483.56 L459.60 483.55 L460.60 483.54 L461.60 483.53 L462.60 483.52 L463.60 483.51 L464.60 483.49 L465.60 483.48 L466.60 483.47 L467.60 483.46 L468.60 483.45 L469.60 483.44 L470.60 483.43 L471.60 483.42 L472.60 483.41 L473.60 483.40 L474.60 483.39 L475.60 483.38 L476.60 483.37 L477.60 483.36 L478.60 483.35 L479.60 483.34 L479.80 483.34" fill="none" stroke="#0000ff" stroke-width="2.4" stroke-linejoin="round" stroke-linecap="butt" />
<path d="M326.60 488.90 L326.85 488.71 L327.10 488.53 L327.35 488.34 L327.60 488.17 L327.85 487.99 L328.10 487.82 L328.35 487.65 L328.60 487.49 L328.85 487.32 L329.10 487.16 L329.35 487.01 L329.60 486.85 L329.85 486.70 L330.10 486.56 L330.35 486.41 L330.60 486.27 L331.60 485.72 L332.60 485.22 L333.60 484.75 L334.60 484.31 L335.60 483.90 L336.60 483.52 L337.60 483.17 L338.60 482.84 L339.60 482.54 L340.60 482.26 L341.60 481.99 L342.60 481.74 L343.60 481.51 L344.60 481.30 L345.60 481.10 L346.60 480.91 L347.60 480.73 L348.60 480.57 L349.60 480.41 L350.60 480.27 L351.60 480.13 L352.60 480.01 L353.60 479.89 L354.60 479.77 L355.60 479.67 L356.60 479.57 L357.60 479.47 L358.60 479.38 L359.60 479.30 L360.60 479.22 L361.60 479.14 L362.60 479.07 L363.60 479.00 L364.60 478.94 L365.60 478.88 L366.60 478.82 L367.60 478.76 L368.60 478.70 L369.60 478.65 L370.60 478.60 L371.60 478.55 L372.60 478.51 L373.60 478.46 L374.60 478.42 L375.60 478.38 L376.60 478.33 L377.60 478.30 L378.60 478.26 L379.60 478.22 L380.60 478.18 L381.60 478.15 L382.60 478.11 L383.60 478.08 L384.60 478.04 L385.60 478.01 L386.60 477.98 L387.60 477.95 L388.60 477.92 L389.60 477.89 L390.60 477.85 L391.60 477.82 L392.60 477.80 L393.60 477.77 L394.60 477.74 L395.60 477.71 L396.60 477.68 L397.60 477.65 L398.60 477.62 L399.60 477.60 L400.60 477.57 L401.60 477.54 L402.60 477.52 L403.60 477.49 L404.60 477.46 L405.60 477.44 L406.60 477.41 L407.60 477.38 L408.60 477.36 L409.60 477.33 L410.60 477.30 L411.60 477.28 L412.60 477.25 L413.60 477.23 L414.60 477.20 L415.60 477.18 L416.60 477.15 L417.60 477.12 L418.60 477.10 L419.60 477.07 L420.60 477.05 L421.60 477.02 L422.60 477.00 L423.60 476.97 L424.60 476.95 L425.60 476.92 L426.60 476.90 L427.60 476.87 L428.60 476.85 L429.60 476.82 L430.60 476.80 L431.60 476.77 L432.60 476.75 L433.60 476.72 L434.60 476.70 L435.60 476.67 L436.60 476.65 L437.60 476.62 L438.60 476.60 L439.60 476.57 L440.60 476.55 L441.60 476.52 L442.60 476.50 L443.60 476.47 L444.60 476.45 L445.60 476.42 L446.60 476.40 L447.60 476.37 L448.60 476.35 L449.60 476.32 L450.60 476.30 L451.60 476.27 L452.60 476.25 L453.60 476.22 L454.60 476.20 L455.60 476.17 L456.60 476.15 L457.60 476.12 L458.60 476.10 L459.60 476.07 L460.60 476.05 L461.60 476.02 L462.60 476.00 L463.60 475.97 L464.60 475.95 L465.60 475.92 L466.60 475.90 L467.60 475.87 L468.60 475.85 L469.60 475.82 L470.60 475.80 L471.60 475.77 L472.60 475.75 L473.60 475.72 L474.60 475.70 L475.60 475.67 L476.60 475.65 L477.60 475.62 L478.60 475.60 L479.60 475.57 L479.80 475.57" fill="none" stroke="#800000" stroke-width="2.4" stroke-linejoin="round" stroke-linecap="butt" />
<path d="M326.60 488.90 L326.85 488.69 L327.10 488.48 L327.35 488.28 L327.60 488.08 L327.85 487.87 L328.10 487.67 L328.35 487.48 L328.60 487.28 L328.85 487.08 L329.10 486.89 L329.35 486.70 L329.60 486.51 L329.85 486.32 L330.10 486.13 L330.35 485.95 L330.60 485.76 L331.60 485.05 L332.60 484.35 L333.60 483.68 L334.60 483.03 L335.60 482.40 L336.60 481.79 L337.60 481.20 L338.60 480.64 L339.60 480.09 L340.60 479.55 L341.60 479.04 L342.60 478.54 L343.60 478.06 L344.60 477.60 L345.60 477.14 L346.60 476.71 L347.60 476.29 L348.60 475.88 L349.60 475.48 L350.60 475.10 L351.60 474.72 L352.60 474.36 L353.60 474.02 L354.60 473.68 L355.60 473.35 L356.60 473.03 L357.60 472.72 L358.60 472.43 L359.60 472.14 L360.60 471.86 L361.60 471.58 L362.60 471.32 L363.60 471.06 L364.60 470.81 L365.60 470.57 L366.60 470.34 L367.60 470.11 L368.60 469.89 L369.60 469.67 L370.60 469.46 L371.60 469.26 L372.60 469.06 L373.60 468.87 L374.60 468.68 L375.60 468.50 L376.60 468.32 L377.60 468.15 L378.60 467.98 L379.60 467.82 L380.60 467.66 L381.60 467.50 L382.60 467.35 L383.60 467.20 L384.60 467.06 L385.60 466.92 L386.60 466.78 L387.60 466.65 L388.60 466.52 L389.60 466.39 L390.60 466.26 L391.60 466.14 L392.60 466.02 L393.60 465.91 L394.60 465.79 L395.60 465.68 L396.60 465.57 L397.60 465.46 L398.60 465.36 L399.60 465.26 L400.60 465.16 L401.60 465.06 L402.60 464.96 L403.60 464.87 L404.60 464.77 L405.60 464.68 L406.60 464.59 L407.60 464.50 L408.60 464.42 L409.60 464.33 L410.60 464.25 L411.60 464.16 L412.60 464.08 L413.60 464.00 L414.60 463.92 L415.60 463.85 L416.60 463.77 L417.60 463.70 L418.60 463.62 L419.60 463.55 L420.60 463.48 L421.60 463.40 L422.60 463.33 L423.60 463.26 L424.60 463.20 L425.60 463.13 L426.60 463.06 L427.60 462.99 L428.60 462.93 L429.60 462.86 L430.60 462.80 L431.60 462.74 L432.60 462.67 L433.60 462.61 L434.60 462.55 L435.60 462.49 L436.60 462.43 L437.60 462.37 L438.60 462.31 L439.60 462.25 L440.60 462.19 L441.60 462.13 L442.60 462.08 L443.60 462.02 L444.60 461.96 L445.60 461.91 L446.60 461.85 L447.60 461.79 L448.60 461.74 L449.60 461.68 L450.60 461.63 L451.60 461.58 L452.60 461.52 L453.60 461.47 L454.60 461.42 L455.60 461.36 L456.60 461.31 L457.60 461.26 L458.60 461.20 L459.60 461.15 L460.60 461.10 L461.60 461.05 L462.60 461.00 L463.60 460.95 L464.60 460.90 L465.60 460.85 L466.60 460.79 L467.60 460.74 L468.60 460.69 L469.60 460.64 L470.60 460.59 L471.60 460.54 L472.60 460.49 L473.60 460.45 L474.60 460.40 L475.60 460.35 L476.60 460.30 L477.60 460.25 L478.60 460.20 L479.60 460.15 L479.80 460.14" fill="none" stroke="#ff80ff" stroke-width="2.4" stroke-linejoin="round" stroke-linecap="butt" />
<path d="M326.60 488.60 L333.00 481.46 L334.00 480.63 L335.00 479.81 L336.00 479.00 L337.00 478.21 L338.00 477.42 L339.00 476.65 L340.00 475.88 L341.00 475.13 L342.00 474.39 L343.00 473.65 L344.00 472.93 L345.00 472.22 L346.00 471.52 L347.00 470.83 L348.00 470.15 L349.00 469.47 L350.00 468.81 L351.00 468.16 L352.00 467.52 L353.00 466.89 L354.00 466.26 L355.00 465.65 L356.00 465.04 L357.00 464.45 L358.00 463.86 L359.00 463.29 L360.00 462.72 L361.00 462.16 L362.00 461.61 L363.00 461.07 L364.00 460.53 L365.00 460.01 L366.00 459.49 L367.00 458.98 L368.00 458.48 L369.00 457.99 L370.00 457.51 L371.00 457.03 L372.00 456.57 L373.00 456.11 L374.00 455.65 L375.00 455.21 L376.00 454.77 L377.00 454.34 L378.00 453.92 L379.00 453.51 L380.00 453.10 L381.00 452.70 L382.00 452.31 L383.00 451.92 L384.00 451.54 L385.00 451.17 L386.00 450.80 L387.00 450.44 L388.00 450.09 L389.00 449.74 L390.00 449.40 L391.00 449.07 L392.00 448.74 L393.00 448.42 L394.00 448.10 L395.00 447.79 L396.00 447.49 L397.00 447.19 L398.00 446.90 L399.00 446.61 L400.00 446.33 L401.00 446.05 L402.00 445.78 L403.00 445.52 L404.00 445.26 L405.00 445.00 L406.00 444.75 L407.00 444.50 L408.00 444.26 L409.00 444.03 L410.00 443.80 L411.00 443.57 L412.00 443.35 L413.00 443.13 L414.00 442.91 L415.00 442.70 L416.00 442.50 L417.00 442.29 L418.00 442.10 L419.00 441.90 L420.00 441.71 L421.00 441.52 L422.00 441.34 L423.00 441.16 L424.00 440.98 L425.00 440.81 L426.00 440.64 L427.00 440.47 L428.00 440.31 L429.00 440.15 L430.00 439.99 L431.00 439.83 L432.00 439.68 L433.00 439.53 L434.00 439.38 L435.00 439.24 L436.00 439.09 L437.00 438.95 L438.00 438.81 L439.00 438.68 L440.00 438.54 L441.00 438.41 L442.00 438.28 L443.00 438.15 L444.00 438.02 L445.00 437.89 L446.00 437.77 L447.00 437.65 L448.00 437.52 L449.00 437.40 L450.00 437.28 L451.00 437.16 L452.00 437.05 L453.00 436.93 L454.00 436.81 L455.00 436.70 L456.00 436.58 L457.00 436.47 L458.00 436.35 L459.00 436.24 L460.00 436.13 L461.00 436.01 L462.00 435.90 L463.00 435.78 L464.00 435.67 L465.00 435.56 L466.00 435.44 L467.00 435.33 L468.00 435.21 L469.00 435.10 L470.00 434.98 L471.00 434.86 L472.00 434.75 L473.00 434.63 L474.00 434.51 L475.00 434.39 L476.00 434.26 L477.00 434.14 L478.00 434.02 L479.00 433.89 L479.80 433.79" fill="none" stroke="#008000" stroke-width="2.4" stroke-linejoin="round" stroke-linecap="butt" />
<path d="M326.60 488.60 L333.00 479.43 L334.00 478.24 L335.00 477.05 L336.00 475.87 L337.00 474.71 L338.00 473.56 L339.00 472.42 L340.00 471.29 L341.00 470.17 L342.00 469.06 L343.00 467.96 L344.00 466.87 L345.00 465.80 L346.00 464.73 L347.00 463.67 L348.00 462.63 L349.00 461.59 L350.00 460.57 L351.00 459.55 L352.00 458.55 L353.00 457.55 L354.00 456.57 L355.00 455.60 L356.00 454.63 L357.00 453.68 L358.00 452.73 L359.00 451.80 L360.00 450.87 L361.00 449.96 L362.00 449.05 L363.00 448.16 L364.00 447.27 L365.00 446.39 L366.00 445.52 L367.00 444.67 L368.00 443.82 L369.00 442.98 L370.00 442.15 L371.00 441.32 L372.00 440.51 L373.00 439.71 L374.00 438.91 L375.00 438.13 L376.00 437.35 L377.00 436.58 L378.00 435.82 L379.00 435.07 L380.00 434.32 L381.00 433.59 L382.00 432.86 L383.00 432.15 L384.00 431.44 L385.00 430.74 L386.00 430.04 L387.00 429.36 L388.00 428.68 L389.00 428.01 L390.00 427.35 L391.00 426.70 L392.00 426.05 L393.00 425.41 L394.00 424.78 L395.00 424.16 L396.00 423.55 L397.00 422.94 L398.00 422.34 L399.00 421.75 L400.00 421.16 L401.00 420.59 L402.00 420.02 L403.00 419.45 L404.00 418.90 L405.00 418.35 L406.00 417.80 L407.00 417.27 L408.00 416.74 L409.00 416.22 L410.00 415.70 L411.00 415.19 L412.00 414.69 L413.00 414.19 L414.00 413.70 L415.00 413.22 L416.00 412.74 L417.00 412.27 L418.00 411.80 L419.00 411.34 L420.00 410.88 L421.00 410.43 L422.00 409.99 L423.00 409.55 L424.00 409.12 L425.00 408.69 L426.00 408.27 L427.00 407.85 L428.00 407.44 L429.00 407.03 L430.00 406.63 L431.00 406.23 L432.00 405.84 L433.00 405.45 L434.00 405.06 L435.00 404.68 L436.00 404.31 L437.00 403.94 L438.00 403.57 L439.00 403.21 L440.00 402.85 L441.00 402.49 L442.00 402.14 L443.00 401.79 L444.00 401.45 L445.00 401.11 L446.00 400.77 L447.00 400.44 L448.00 400.11 L449.00 399.79 L450.00 399.46 L451.00 399.14 L452.00 398.83 L453.00 398.51 L454.00 398.20 L455.00 397.89 L456.00 397.59 L457.00 397.28 L458.00 396.98 L459.00 396.68 L460.00 396.39 L461.00 396.10 L462.00 395.80 L463.00 395.51 L464.00 395.23 L465.00 394.94 L466.00 394.66 L467.00 394.38 L468.00 394.10 L469.00 393.82 L470.00 393.54 L471.00 393.27 L472.00 392.99 L473.00 392.72 L474.00 392.45 L475.00 392.18 L476.00 391.91 L477.00 391.64 L478.00 391.37 L479.00 391.10 L479.80 390.89" fill="none" stroke="#8000ff" stroke-width="2.4" stroke-linejoin="round" stroke-linecap="butt" />
<path d="M326.60 488.60 L327.70 484.19 L328.70 482.41 L329.70 480.64 L330.70 478.89 L331.70 477.16 L332.70 475.43 L333.70 473.73 L334.70 472.03 L335.70 470.36 L336.70 468.69 L337.70 467.04 L338.70 465.41 L339.70 463.78 L340.70 462.18 L341.70 460.58 L342.70 459.00 L343.70 457.43 L344.70 455.88 L345.70 454.34 L346.70 452.81 L347.70 451.30 L348.70 449.80 L349.70 448.31 L350.70 446.83 L351.70 445.37 L352.70 443.92 L353.70 442.48 L354.70 441.05 L355.70 439.63 L356.70 438.23 L357.70 436.84 L358.70 435.46 L359.70 434.09 L360.70 432.74 L361.70 431.39 L362.70 430.06 L363.70 428.73 L364.70 427.42 L365.70 426.12 L366.70 424.83 L367.70 423.55 L368.70 422.28 L369.70 421.02 L370.70 419.78 L371.70 418.54 L372.70 417.31 L373.70 416.09 L374.70 414.88 L375.70 413.68 L376.70 412.49 L377.70 411.31 L378.70 410.14 L379.70 408.98 L380.70 407.83 L381.70 406.68 L382.70 405.55 L383.70 404.42 L384.70 403.31 L385.70 402.20 L386.70 401.10 L387.70 400.01 L388.70 398.92 L389.70 397.85 L390.70 396.78 L391.70 395.72 L392.70 394.66 L393.70 393.62 L394.70 392.58 L395.70 391.55 L396.70 390.53 L397.70 389.51 L398.70 388.50 L399.70 387.50 L400.70 386.50 L401.70 385.51 L402.70 384.53 L403.70 383.56 L404.70 382.59 L405.70 381.62 L406.70 380.66 L407.70 379.71 L408.70 378.77 L409.70 377.82 L410.70 376.89 L411.70 375.96 L412.70 375.03 L413.70 374.12 L414.70 373.20 L415.70 372.29 L416.70 371.39 L417.70 370.49 L418.70 369.59 L419.70 368.70 L420.70 367.81 L421.70 366.93 L422.70 366.05 L423.70 365.18 L424.70 364.31 L425.70 363.44 L426.70 362.58 L427.70 361.72 L428.70 360.86 L429.70 360.01 L430.70 359.16 L431.70 358.32 L432.70 357.47 L433.70 356.63 L434.70 355.79 L435.70 354.96 L436.70 354.12 L437.70 353.29 L438.70 352.46 L439.70 351.64 L440.70 350.81 L441.70 349.99 L442.70 349.17 L443.70 348.35 L444.70 347.53 L445.70 346.72 L446.70 345.90 L447.70 345.09 L448.70 344.27 L449.70 343.46 L450.70 342.65 L451.70 341.84 L452.70 341.03 L453.70 340.22 L454.70 339.41 L455.70 338.60 L456.70 337.79 L457.70 336.98 L458.70 336.17 L459.70 335.36 L460.70 334.55 L461.70 333.74 L462.70 332.93 L463.70 332.12 L464.70 331.30 L465.70 330.49 L466.70 329.67 L467.70 328.86 L468.70 328.04 L469.70 327.22 L470.70 326.40 L471.70 325.58 L472.70 324.75 L473.70 323.93 L474.70 323.10 L475.70 322.27 L476.70 321.44 L477.70 320.60 L478.70 319.76 L479.70 318.92 L479.80 318.84" fill="none" stroke="#800080" stroke-width="2.4" stroke-linejoin="round" stroke-linecap="butt" />
<path d="M326.6 488.2 L479.8 488.2" fill="none" stroke="#000000" stroke-width="1.7" stroke-linejoin="round" stroke-linecap="butt" />
</g>
<line x1="348.49" y1="488.9" x2="348.49" y2="485.9" stroke="#000" stroke-width="1.1"/>
<line x1="370.37" y1="488.9" x2="370.37" y2="485.9" stroke="#000" stroke-width="1.1"/>
<line x1="392.26" y1="488.9" x2="392.26" y2="485.9" stroke="#000" stroke-width="1.1"/>
<line x1="414.14" y1="488.9" x2="414.14" y2="485.9" stroke="#000" stroke-width="1.1"/>
<line x1="436.03" y1="488.9" x2="436.03" y2="485.9" stroke="#000" stroke-width="1.1"/>
<line x1="457.91" y1="488.9" x2="457.91" y2="485.9" stroke="#000" stroke-width="1.1"/>
<path d="M479.8 272.7 L326.6 272.7 L326.6 488.9 L479.8 488.9" fill="none" stroke="#000" stroke-width="1.6" stroke-linecap="square"/>
<line x1="479.8" y1="271.9" x2="479.8" y2="489.7" stroke="#000" stroke-width="1.6"/>
<text x="257.7" y="278" font-size="14.0" text-anchor="start" fill="#000" font-weight="bold" >(e)</text>
<text x="321.9" y="451.46" font-size="13.0" text-anchor="end" fill="#000" font-weight="normal" >-2.0E-5</text>
<text x="321.9" y="408.22" font-size="13.0" text-anchor="end" fill="#000" font-weight="normal" >-4.0E-5</text>
<text x="321.9" y="364.98" font-size="13.0" text-anchor="end" fill="#000" font-weight="normal" >-6.0E-5</text>
<text x="321.9" y="321.74" font-size="13.0" text-anchor="end" fill="#000" font-weight="normal" >-8.0E-5</text>
<text x="321.9" y="278.5" font-size="13.0" text-anchor="end" fill="#000" font-weight="normal" >-1.0E-4</text>
<text x="326.6" y="502.8" font-size="13.0" text-anchor="middle" fill="#000" font-weight="normal" >0</text>
<text x="370.37" y="502.8" font-size="13.0" text-anchor="middle" fill="#000" font-weight="normal" >20</text>
<text x="414.14" y="502.8" font-size="13.0" text-anchor="middle" fill="#000" font-weight="normal" >40</text>
<text x="457.91" y="502.8" font-size="13.0" text-anchor="middle" fill="#000" font-weight="normal" >60</text>
<text x="385.3" y="516.8" font-size="13.4"><tspan font-style="italic">V</tspan><tspan font-size="8.0" dy="4" dx="-0.8">D</tspan><tspan dy="-4"> (V)</tspan></text>
<text transform="translate(272 382.5) rotate(-90)" x="0" y="0" font-size="13.4" text-anchor="middle"><tspan font-style="italic">I</tspan><tspan font-size="8.0" dy="3">S</tspan><tspan dy="-3"> (A)</tspan></text>
<line x1="335.7" y1="286.8" x2="353.9" y2="286.8" stroke="#000000" stroke-width="2.4"/>
<text x="357.3" y="291.8" font-size="14.0" text-anchor="start" fill="#000" font-weight="normal" >0 V</text>
<line x1="335.7" y1="301.4" x2="353.9" y2="301.4" stroke="#ff0000" stroke-width="2.4"/>
<text x="357.3" y="306.4" font-size="14.0" text-anchor="start" fill="#000" font-weight="normal" >10 V</text>
<line x1="335.7" y1="316" x2="353.9" y2="316" stroke="#0000ff" stroke-width="2.4"/>
<text x="357.3" y="321" font-size="14.0" text-anchor="start" fill="#000" font-weight="normal" >20 V</text>
<line x1="335.7" y1="330.6" x2="353.9" y2="330.6" stroke="#800000" stroke-width="2.4"/>
<text x="357.3" y="335.6" font-size="14.0" text-anchor="start" fill="#000" font-weight="normal" >30 V</text>
<line x1="335.7" y1="345.2" x2="353.9" y2="345.2" stroke="#ff80ff" stroke-width="2.4"/>
<text x="357.3" y="350.2" font-size="14.0" text-anchor="start" fill="#000" font-weight="normal" >40 V</text>
<line x1="335.7" y1="359.8" x2="353.9" y2="359.8" stroke="#008000" stroke-width="2.4"/>
<text x="357.3" y="364.8" font-size="14.0" text-anchor="start" fill="#000" font-weight="normal" >50 V</text>
<line x1="335.7" y1="374.4" x2="353.9" y2="374.4" stroke="#8000ff" stroke-width="2.4"/>
<text x="357.3" y="379.4" font-size="14.0" text-anchor="start" fill="#000" font-weight="normal" >60 V</text>
<line x1="335.7" y1="389" x2="353.9" y2="389" stroke="#800080" stroke-width="2.4"/>
<text x="357.3" y="394" font-size="14.0" text-anchor="start" fill="#000" font-weight="normal" >70 V</text>
<line x1="589.94" y1="489" x2="589.94" y2="487" stroke="#000" stroke-width="1.1"/>
<line x1="589.94" y1="272.7" x2="589.94" y2="274.7" stroke="#000" stroke-width="1.1"/>
<line x1="600.89" y1="489" x2="600.89" y2="486" stroke="#000" stroke-width="1.1"/>
<line x1="600.89" y1="272.7" x2="600.89" y2="275.7" stroke="#000" stroke-width="1.1"/>
<line x1="611.83" y1="489" x2="611.83" y2="487" stroke="#000" stroke-width="1.1"/>
<line x1="611.83" y1="272.7" x2="611.83" y2="274.7" stroke="#000" stroke-width="1.1"/>
<line x1="622.77" y1="489" x2="622.77" y2="486" stroke="#000" stroke-width="1.1"/>
<line x1="622.77" y1="272.7" x2="622.77" y2="275.7" stroke="#000" stroke-width="1.1"/>
<line x1="633.71" y1="489" x2="633.71" y2="487" stroke="#000" stroke-width="1.1"/>
<line x1="633.71" y1="272.7" x2="633.71" y2="274.7" stroke="#000" stroke-width="1.1"/>
<line x1="644.66" y1="489" x2="644.66" y2="486" stroke="#000" stroke-width="1.1"/>
<line x1="644.66" y1="272.7" x2="644.66" y2="275.7" stroke="#000" stroke-width="1.1"/>
<line x1="655.6" y1="489" x2="655.6" y2="487" stroke="#000" stroke-width="1.1"/>
<line x1="655.6" y1="272.7" x2="655.6" y2="274.7" stroke="#000" stroke-width="1.1"/>
<line x1="666.54" y1="489" x2="666.54" y2="486" stroke="#000" stroke-width="1.1"/>
<line x1="666.54" y1="272.7" x2="666.54" y2="275.7" stroke="#000" stroke-width="1.1"/>
<line x1="677.49" y1="489" x2="677.49" y2="487" stroke="#000" stroke-width="1.1"/>
<line x1="677.49" y1="272.7" x2="677.49" y2="274.7" stroke="#000" stroke-width="1.1"/>
<line x1="688.43" y1="489" x2="688.43" y2="486" stroke="#000" stroke-width="1.1"/>
<line x1="688.43" y1="272.7" x2="688.43" y2="275.7" stroke="#000" stroke-width="1.1"/>
<line x1="699.37" y1="489" x2="699.37" y2="487" stroke="#000" stroke-width="1.1"/>
<line x1="699.37" y1="272.7" x2="699.37" y2="274.7" stroke="#000" stroke-width="1.1"/>
<line x1="710.31" y1="489" x2="710.31" y2="486" stroke="#000" stroke-width="1.1"/>
<line x1="710.31" y1="272.7" x2="710.31" y2="275.7" stroke="#000" stroke-width="1.1"/>
<line x1="721.26" y1="489" x2="721.26" y2="487" stroke="#000" stroke-width="1.1"/>
<line x1="721.26" y1="272.7" x2="721.26" y2="274.7" stroke="#000" stroke-width="1.1"/>
<line x1="579" y1="461.96" x2="581.5" y2="461.96" stroke="#000" stroke-width="1.1"/>
<line x1="732.2" y1="461.96" x2="729.7" y2="461.96" stroke="#000" stroke-width="1.1"/>
<line x1="579" y1="434.93" x2="581.5" y2="434.93" stroke="#000" stroke-width="1.1"/>
<line x1="732.2" y1="434.93" x2="729.7" y2="434.93" stroke="#000" stroke-width="1.1"/>
<line x1="579" y1="407.89" x2="581.5" y2="407.89" stroke="#000" stroke-width="1.1"/>
<line x1="732.2" y1="407.89" x2="729.7" y2="407.89" stroke="#000" stroke-width="1.1"/>
<line x1="579" y1="380.85" x2="581.5" y2="380.85" stroke="#000" stroke-width="1.1"/>
<line x1="732.2" y1="380.85" x2="729.7" y2="380.85" stroke="#000" stroke-width="1.1"/>
<line x1="579" y1="353.81" x2="581.5" y2="353.81" stroke="#000" stroke-width="1.1"/>
<line x1="732.2" y1="353.81" x2="729.7" y2="353.81" stroke="#000" stroke-width="1.1"/>
<line x1="579" y1="326.77" x2="581.5" y2="326.77" stroke="#000" stroke-width="1.1"/>
<line x1="732.2" y1="326.77" x2="729.7" y2="326.77" stroke="#000" stroke-width="1.1"/>
<line x1="579" y1="299.74" x2="581.5" y2="299.74" stroke="#000" stroke-width="1.1"/>
<line x1="732.2" y1="299.74" x2="729.7" y2="299.74" stroke="#000" stroke-width="1.1"/>
<clipPath id="clipf"><rect x="579.0" y="272.7" width="154.20000000000005" height="217.3"/></clipPath>
<g clip-path="url(#clipf)">
<path d="M579.00 489.00 L579.25 488.98 L579.50 488.96 L579.75 488.94 L580.00 488.92 L580.25 488.90 L580.50 488.88 L580.75 488.86 L581.00 488.84 L581.25 488.82 L581.50 488.81 L581.75 488.79 L582.00 488.77 L582.25 488.75 L582.50 488.73 L582.75 488.72 L583.00 488.70 L584.00 488.63 L585.00 488.57 L586.00 488.51 L587.00 488.45 L588.00 488.39 L589.00 488.34 L590.00 488.29 L591.00 488.24 L592.00 488.19 L593.00 488.15 L594.00 488.10 L595.00 488.06 L596.00 488.02 L597.00 487.99 L598.00 487.95 L599.00 487.91 L600.00 487.88 L601.00 487.85 L602.00 487.82 L603.00 487.79 L604.00 487.76 L605.00 487.73 L606.00 487.71 L607.00 487.68 L608.00 487.66 L609.00 487.63 L610.00 487.61 L611.00 487.59 L612.00 487.57 L613.00 487.55 L614.00 487.53 L615.00 487.51 L616.00 487.49 L617.00 487.48 L618.00 487.46 L619.00 487.44 L620.00 487.43 L621.00 487.41 L622.00 487.40 L623.00 487.38 L624.00 487.37 L625.00 487.36 L626.00 487.35 L627.00 487.33 L628.00 487.32 L629.00 487.31 L630.00 487.30 L631.00 487.29 L632.00 487.28 L633.00 487.27 L634.00 487.26 L635.00 487.25 L636.00 487.24 L637.00 487.23 L638.00 487.22 L639.00 487.21 L640.00 487.20 L641.00 487.19 L642.00 487.18 L643.00 487.17 L644.00 487.17 L645.00 487.16 L646.00 487.15 L647.00 487.14 L648.00 487.14 L649.00 487.13 L650.00 487.12 L651.00 487.12 L652.00 487.11 L653.00 487.10 L654.00 487.09 L655.00 487.09 L656.00 487.08 L657.00 487.08 L658.00 487.07 L659.00 487.06 L660.00 487.06 L661.00 487.05 L662.00 487.04 L663.00 487.04 L664.00 487.03 L665.00 487.03 L666.00 487.02 L667.00 487.02 L668.00 487.01 L669.00 487.00 L670.00 487.00 L671.00 486.99 L672.00 486.99 L673.00 486.98 L674.00 486.98 L675.00 486.97 L676.00 486.97 L677.00 486.96 L678.00 486.96 L679.00 486.95 L680.00 486.95 L681.00 486.94 L682.00 486.94 L683.00 486.93 L684.00 486.93 L685.00 486.92 L686.00 486.92 L687.00 486.91 L688.00 486.91 L689.00 486.90 L690.00 486.90 L691.00 486.89 L692.00 486.89 L693.00 486.88 L694.00 486.88 L695.00 486.87 L696.00 486.87 L697.00 486.86 L698.00 486.86 L699.00 486.85 L700.00 486.85 L701.00 486.84 L702.00 486.84 L703.00 486.83 L704.00 486.83 L705.00 486.82 L706.00 486.82 L707.00 486.82 L708.00 486.81 L709.00 486.81 L710.00 486.80 L711.00 486.80 L712.00 486.79 L713.00 486.79 L714.00 486.78 L715.00 486.78 L716.00 486.77 L717.00 486.77 L718.00 486.76 L719.00 486.76 L720.00 486.76 L721.00 486.75 L722.00 486.75 L723.00 486.74 L724.00 486.74 L725.00 486.73 L726.00 486.73 L727.00 486.72 L728.00 486.72 L729.00 486.71 L730.00 486.71 L731.00 486.70 L732.00 486.70 L732.20 486.70" fill="none" stroke="#ff0000" stroke-width="2.4" stroke-linejoin="round" stroke-linecap="butt" />
<path d="M579.00 489.00 L579.25 487.42 L579.50 486.29 L579.75 485.48 L580.00 484.90 L580.25 484.48 L580.50 484.18 L580.75 483.97 L581.00 483.81 L581.25 483.70 L581.50 483.62 L581.75 483.56 L582.00 483.52 L582.25 483.49 L582.50 483.47 L582.75 483.45 L583.00 483.44 L584.00 483.41 L585.00 483.39 L586.00 483.38 L587.00 483.37 L588.00 483.36 L589.00 483.35 L590.00 483.34 L591.00 483.33 L592.00 483.32 L593.00 483.31 L594.00 483.30 L595.00 483.29 L596.00 483.28 L597.00 483.27 L598.00 483.26 L599.00 483.25 L600.00 483.25 L601.00 483.24 L602.00 483.23 L603.00 483.22 L604.00 483.21 L605.00 483.20 L606.00 483.19 L607.00 483.18 L608.00 483.17 L609.00 483.16 L610.00 483.15 L611.00 483.14 L612.00 483.13 L613.00 483.12 L614.00 483.11 L615.00 483.10 L616.00 483.09 L617.00 483.08 L618.00 483.07 L619.00 483.06 L620.00 483.05 L621.00 483.04 L622.00 483.03 L623.00 483.02 L624.00 483.01 L625.00 483.00 L626.00 482.99 L627.00 482.98 L628.00 482.97 L629.00 482.96 L630.00 482.95 L631.00 482.94 L632.00 482.94 L633.00 482.93 L634.00 482.92 L635.00 482.91 L636.00 482.90 L637.00 482.89 L638.00 482.88 L639.00 482.87 L640.00 482.86 L641.00 482.85 L642.00 482.84 L643.00 482.83 L644.00 482.82 L645.00 482.81 L646.00 482.80 L647.00 482.79 L648.00 482.78 L649.00 482.77 L650.00 482.76 L651.00 482.75 L652.00 482.74 L653.00 482.73 L654.00 482.72 L655.00 482.71 L656.00 482.70 L657.00 482.69 L658.00 482.68 L659.00 482.67 L660.00 482.66 L661.00 482.65 L662.00 482.64 L663.00 482.64 L664.00 482.63 L665.00 482.62 L666.00 482.61 L667.00 482.60 L668.00 482.59 L669.00 482.58 L670.00 482.57 L671.00 482.56 L672.00 482.55 L673.00 482.54 L674.00 482.53 L675.00 482.52 L676.00 482.51 L677.00 482.50 L678.00 482.49 L679.00 482.48 L680.00 482.47 L681.00 482.46 L682.00 482.45 L683.00 482.44 L684.00 482.43 L685.00 482.42 L686.00 482.41 L687.00 482.40 L688.00 482.39 L689.00 482.38 L690.00 482.37 L691.00 482.36 L692.00 482.35 L693.00 482.34 L694.00 482.34 L695.00 482.33 L696.00 482.32 L697.00 482.31 L698.00 482.30 L699.00 482.29 L700.00 482.28 L701.00 482.27 L702.00 482.26 L703.00 482.25 L704.00 482.24 L705.00 482.23 L706.00 482.22 L707.00 482.21 L708.00 482.20 L709.00 482.19 L710.00 482.18 L711.00 482.17 L712.00 482.16 L713.00 482.15 L714.00 482.14 L715.00 482.13 L716.00 482.12 L717.00 482.11 L718.00 482.10 L719.00 482.09 L720.00 482.08 L721.00 482.07 L722.00 482.06 L723.00 482.05 L724.00 482.04 L725.00 482.03 L726.00 482.03 L727.00 482.02 L728.00 482.01 L729.00 482.00 L730.00 481.99 L731.00 481.98 L732.00 481.97 L732.20 481.97" fill="none" stroke="#0000ff" stroke-width="2.4" stroke-linejoin="round" stroke-linecap="butt" />
<path d="M579.00 489.00 L579.25 488.87 L579.50 488.74 L579.75 488.62 L580.00 488.49 L580.25 488.37 L580.50 488.24 L580.75 488.12 L581.00 488.00 L581.25 487.88 L581.50 487.76 L581.75 487.65 L582.00 487.53 L582.25 487.41 L582.50 487.30 L582.75 487.19 L583.00 487.07 L584.00 486.64 L585.00 486.21 L586.00 485.81 L587.00 485.41 L588.00 485.04 L589.00 484.67 L590.00 484.32 L591.00 483.98 L592.00 483.66 L593.00 483.34 L594.00 483.04 L595.00 482.74 L596.00 482.46 L597.00 482.19 L598.00 481.93 L599.00 481.67 L600.00 481.43 L601.00 481.19 L602.00 480.97 L603.00 480.75 L604.00 480.54 L605.00 480.33 L606.00 480.13 L607.00 479.94 L608.00 479.76 L609.00 479.58 L610.00 479.41 L611.00 479.24 L612.00 479.08 L613.00 478.93 L614.00 478.77 L615.00 478.63 L616.00 478.49 L617.00 478.35 L618.00 478.22 L619.00 478.10 L620.00 477.97 L621.00 477.85 L622.00 477.74 L623.00 477.63 L624.00 477.52 L625.00 477.41 L626.00 477.31 L627.00 477.21 L628.00 477.12 L629.00 477.02 L630.00 476.93 L631.00 476.85 L632.00 476.76 L633.00 476.68 L634.00 476.60 L635.00 476.52 L636.00 476.45 L637.00 476.37 L638.00 476.30 L639.00 476.23 L640.00 476.17 L641.00 476.10 L642.00 476.04 L643.00 475.98 L644.00 475.92 L645.00 475.86 L646.00 475.80 L647.00 475.74 L648.00 475.69 L649.00 475.63 L650.00 475.58 L651.00 475.53 L652.00 475.48 L653.00 475.43 L654.00 475.39 L655.00 475.34 L656.00 475.29 L657.00 475.25 L658.00 475.21 L659.00 475.16 L660.00 475.12 L661.00 475.08 L662.00 475.04 L663.00 475.00 L664.00 474.96 L665.00 474.92 L666.00 474.89 L667.00 474.85 L668.00 474.81 L669.00 474.78 L670.00 474.74 L671.00 474.71 L672.00 474.68 L673.00 474.64 L674.00 474.61 L675.00 474.58 L676.00 474.55 L677.00 474.52 L678.00 474.48 L679.00 474.45 L680.00 474.42 L681.00 474.39 L682.00 474.36 L683.00 474.34 L684.00 474.31 L685.00 474.28 L686.00 474.25 L687.00 474.22 L688.00 474.20 L689.00 474.17 L690.00 474.14 L691.00 474.12 L692.00 474.09 L693.00 474.06 L694.00 474.04 L695.00 474.01 L696.00 473.99 L697.00 473.96 L698.00 473.94 L699.00 473.91 L700.00 473.89 L701.00 473.86 L702.00 473.84 L703.00 473.81 L704.00 473.79 L705.00 473.77 L706.00 473.74 L707.00 473.72 L708.00 473.69 L709.00 473.67 L710.00 473.65 L711.00 473.63 L712.00 473.60 L713.00 473.58 L714.00 473.56 L715.00 473.53 L716.00 473.51 L717.00 473.49 L718.00 473.47 L719.00 473.44 L720.00 473.42 L721.00 473.40 L722.00 473.38 L723.00 473.36 L724.00 473.33 L725.00 473.31 L726.00 473.29 L727.00 473.27 L728.00 473.25 L729.00 473.23 L730.00 473.20 L731.00 473.18 L732.00 473.16 L732.20 473.16" fill="none" stroke="#800000" stroke-width="2.4" stroke-linejoin="round" stroke-linecap="butt" />
<path d="M579.00 489.00 L579.25 488.81 L579.50 488.62 L579.75 488.44 L580.00 488.25 L580.25 488.07 L580.50 487.89 L580.75 487.70 L581.00 487.52 L581.25 487.34 L581.50 487.16 L581.75 486.99 L582.00 486.81 L582.25 486.64 L582.50 486.46 L582.75 486.29 L583.00 486.12 L584.00 485.44 L585.00 484.78 L586.00 484.14 L587.00 483.51 L588.00 482.90 L589.00 482.30 L590.00 481.72 L591.00 481.15 L592.00 480.59 L593.00 480.05 L594.00 479.52 L595.00 479.01 L596.00 478.51 L597.00 478.02 L598.00 477.54 L599.00 477.08 L600.00 476.62 L601.00 476.18 L602.00 475.75 L603.00 475.33 L604.00 474.91 L605.00 474.51 L606.00 474.12 L607.00 473.74 L608.00 473.37 L609.00 473.01 L610.00 472.65 L611.00 472.31 L612.00 471.97 L613.00 471.64 L614.00 471.32 L615.00 471.01 L616.00 470.70 L617.00 470.41 L618.00 470.12 L619.00 469.84 L620.00 469.56 L621.00 469.29 L622.00 469.03 L623.00 468.77 L624.00 468.52 L625.00 468.28 L626.00 468.04 L627.00 467.81 L628.00 467.58 L629.00 467.36 L630.00 467.15 L631.00 466.94 L632.00 466.73 L633.00 466.54 L634.00 466.34 L635.00 466.15 L636.00 465.97 L637.00 465.79 L638.00 465.61 L639.00 465.44 L640.00 465.27 L641.00 465.11 L642.00 464.95 L643.00 464.79 L644.00 464.64 L645.00 464.49 L646.00 464.35 L647.00 464.21 L648.00 464.07 L649.00 463.94 L650.00 463.81 L651.00 463.68 L652.00 463.56 L653.00 463.43 L654.00 463.32 L655.00 463.20 L656.00 463.09 L657.00 462.98 L658.00 462.87 L659.00 462.77 L660.00 462.67 L661.00 462.57 L662.00 462.47 L663.00 462.38 L664.00 462.28 L665.00 462.19 L666.00 462.11 L667.00 462.02 L668.00 461.94 L669.00 461.86 L670.00 461.78 L671.00 461.70 L672.00 461.62 L673.00 461.55 L674.00 461.48 L675.00 461.41 L676.00 461.34 L677.00 461.27 L678.00 461.21 L679.00 461.15 L680.00 461.08 L681.00 461.02 L682.00 460.97 L683.00 460.91 L684.00 460.85 L685.00 460.80 L686.00 460.74 L687.00 460.69 L688.00 460.64 L689.00 460.59 L690.00 460.54 L691.00 460.50 L692.00 460.45 L693.00 460.41 L694.00 460.36 L695.00 460.32 L696.00 460.28 L697.00 460.24 L698.00 460.20 L699.00 460.16 L700.00 460.12 L701.00 460.09 L702.00 460.05 L703.00 460.02 L704.00 459.98 L705.00 459.95 L706.00 459.92 L707.00 459.89 L708.00 459.86 L709.00 459.83 L710.00 459.80 L711.00 459.77 L712.00 459.74 L713.00 459.71 L714.00 459.69 L715.00 459.66 L716.00 459.64 L717.00 459.61 L718.00 459.59 L719.00 459.56 L720.00 459.54 L721.00 459.52 L722.00 459.50 L723.00 459.48 L724.00 459.46 L725.00 459.44 L726.00 459.42 L727.00 459.40 L728.00 459.38 L729.00 459.36 L730.00 459.34 L731.00 459.32 L732.00 459.31 L732.20 459.30" fill="none" stroke="#ff80ff" stroke-width="2.4" stroke-linejoin="round" stroke-linecap="butt" />
<path d="M579.00 488.70 L591.30 477.58 L592.30 476.82 L593.30 476.07 L594.30 475.33 L595.30 474.60 L596.30 473.88 L597.30 473.17 L598.30 472.47 L599.30 471.78 L600.30 471.10 L601.30 470.43 L602.30 469.77 L603.30 469.12 L604.30 468.48 L605.30 467.85 L606.30 467.23 L607.30 466.62 L608.30 466.02 L609.30 465.43 L610.30 464.84 L611.30 464.27 L612.30 463.70 L613.30 463.15 L614.30 462.60 L615.30 462.06 L616.30 461.53 L617.30 461.01 L618.30 460.50 L619.30 460.00 L620.30 459.50 L621.30 459.01 L622.30 458.53 L623.30 458.06 L624.30 457.60 L625.30 457.14 L626.30 456.70 L627.30 456.26 L628.30 455.82 L629.30 455.40 L630.30 454.98 L631.30 454.57 L632.30 454.17 L633.30 453.77 L634.30 453.38 L635.30 453.00 L636.30 452.63 L637.30 452.26 L638.30 451.90 L639.30 451.54 L640.30 451.19 L641.30 450.85 L642.30 450.52 L643.30 450.19 L644.30 449.87 L645.30 449.55 L646.30 449.24 L647.30 448.93 L648.30 448.63 L649.30 448.34 L650.30 448.05 L651.30 447.77 L652.30 447.49 L653.30 447.22 L654.30 446.96 L655.30 446.70 L656.30 446.44 L657.30 446.19 L658.30 445.94 L659.30 445.70 L660.30 445.47 L661.30 445.23 L662.30 445.01 L663.30 444.78 L664.30 444.57 L665.30 444.35 L666.30 444.14 L667.30 443.94 L668.30 443.74 L669.30 443.54 L670.30 443.34 L671.30 443.15 L672.30 442.97 L673.30 442.79 L674.30 442.61 L675.30 442.43 L676.30 442.26 L677.30 442.09 L678.30 441.92 L679.30 441.76 L680.30 441.60 L681.30 441.44 L682.30 441.29 L683.30 441.14 L684.30 440.99 L685.30 440.84 L686.30 440.70 L687.30 440.55 L688.30 440.41 L689.30 440.28 L690.30 440.14 L691.30 440.01 L692.30 439.88 L693.30 439.75 L694.30 439.62 L695.30 439.49 L696.30 439.37 L697.30 439.24 L698.30 439.12 L699.30 439.00 L700.30 438.88 L701.30 438.76 L702.30 438.64 L703.30 438.53 L704.30 438.41 L705.30 438.30 L706.30 438.18 L707.30 438.07 L708.30 437.95 L709.30 437.84 L710.30 437.73 L711.30 437.61 L712.30 437.50 L713.30 437.39 L714.30 437.28 L715.30 437.16 L716.30 437.05 L717.30 436.94 L718.30 436.82 L719.30 436.71 L720.30 436.59 L721.30 436.48 L722.30 436.36 L723.30 436.24 L724.30 436.13 L725.30 436.01 L726.30 435.89 L727.30 435.76 L728.30 435.64 L729.30 435.52 L730.30 435.39 L731.30 435.26 L732.20 435.14" fill="none" stroke="#008000" stroke-width="2.4" stroke-linejoin="round" stroke-linecap="butt" />
<path d="M579.00 488.70 L591.30 473.43 L592.30 472.40 L593.30 471.38 L594.30 470.37 L595.30 469.37 L596.30 468.38 L597.30 467.41 L598.30 466.44 L599.30 465.48 L600.30 464.54 L601.30 463.60 L602.30 462.67 L603.30 461.76 L604.30 460.85 L605.30 459.96 L606.30 459.07 L607.30 458.20 L608.30 457.33 L609.30 456.47 L610.30 455.63 L611.30 454.79 L612.30 453.96 L613.30 453.15 L614.30 452.34 L615.30 451.54 L616.30 450.75 L617.30 449.97 L618.30 449.20 L619.30 448.44 L620.30 447.68 L621.30 446.94 L622.30 446.20 L623.30 445.47 L624.30 444.76 L625.30 444.05 L626.30 443.34 L627.30 442.65 L628.30 441.97 L629.30 441.29 L630.30 440.62 L631.30 439.96 L632.30 439.31 L633.30 438.66 L634.30 438.03 L635.30 437.40 L636.30 436.77 L637.30 436.16 L638.30 435.55 L639.30 434.96 L640.30 434.36 L641.30 433.78 L642.30 433.20 L643.30 432.63 L644.30 432.07 L645.30 431.52 L646.30 430.97 L647.30 430.43 L648.30 429.89 L649.30 429.36 L650.30 428.84 L651.30 428.33 L652.30 427.82 L653.30 427.32 L654.30 426.82 L655.30 426.33 L656.30 425.85 L657.30 425.37 L658.30 424.90 L659.30 424.43 L660.30 423.97 L661.30 423.52 L662.30 423.07 L663.30 422.63 L664.30 422.19 L665.30 421.76 L666.30 421.34 L667.30 420.92 L668.30 420.50 L669.30 420.09 L670.30 419.68 L671.30 419.28 L672.30 418.89 L673.30 418.50 L674.30 418.11 L675.30 417.73 L676.30 417.36 L677.30 416.99 L678.30 416.62 L679.30 416.26 L680.30 415.90 L681.30 415.54 L682.30 415.20 L683.30 414.85 L684.30 414.51 L685.30 414.17 L686.30 413.84 L687.30 413.51 L688.30 413.18 L689.30 412.86 L690.30 412.54 L691.30 412.22 L692.30 411.91 L693.30 411.60 L694.30 411.30 L695.30 411.00 L696.30 410.70 L697.30 410.40 L698.30 410.11 L699.30 409.82 L700.30 409.53 L701.30 409.25 L702.30 408.96 L703.30 408.68 L704.30 408.41 L705.30 408.13 L706.30 407.86 L707.30 407.59 L708.30 407.32 L709.30 407.06 L710.30 406.80 L711.30 406.53 L712.30 406.27 L713.30 406.02 L714.30 405.76 L715.30 405.51 L716.30 405.25 L717.30 405.00 L718.30 404.75 L719.30 404.51 L720.30 404.26 L721.30 404.01 L722.30 403.77 L723.30 403.53 L724.30 403.28 L725.30 403.04 L726.30 402.80 L727.30 402.56 L728.30 402.32 L729.30 402.08 L730.30 401.84 L731.30 401.61 L732.20 401.39" fill="none" stroke="#8000ff" stroke-width="2.4" stroke-linejoin="round" stroke-linecap="butt" />
<path d="M579.00 488.70 L580.70 484.03 L581.70 482.34 L582.70 480.66 L583.70 479.01 L584.70 477.37 L585.70 475.75 L586.70 474.16 L587.70 472.58 L588.70 471.02 L589.70 469.48 L590.70 467.96 L591.70 466.46 L592.70 464.98 L593.70 463.52 L594.70 462.07 L595.70 460.64 L596.70 459.23 L597.70 457.84 L598.70 456.46 L599.70 455.10 L600.70 453.76 L601.70 452.43 L602.70 451.12 L603.70 449.83 L604.70 448.55 L605.70 447.29 L606.70 446.04 L607.70 444.81 L608.70 443.59 L609.70 442.39 L610.70 441.20 L611.70 440.03 L612.70 438.87 L613.70 437.72 L614.70 436.59 L615.70 435.48 L616.70 434.37 L617.70 433.28 L618.70 432.20 L619.70 431.14 L620.70 430.09 L621.70 429.05 L622.70 428.02 L623.70 427.00 L624.70 426.00 L625.70 425.01 L626.70 424.02 L627.70 423.05 L628.70 422.09 L629.70 421.15 L630.70 420.21 L631.70 419.28 L632.70 418.36 L633.70 417.45 L634.70 416.55 L635.70 415.66 L636.70 414.78 L637.70 413.91 L638.70 413.05 L639.70 412.19 L640.70 411.35 L641.70 410.51 L642.70 409.68 L643.70 408.86 L644.70 408.04 L645.70 407.24 L646.70 406.44 L647.70 405.64 L648.70 404.86 L649.70 404.07 L650.70 403.30 L651.70 402.53 L652.70 401.77 L653.70 401.01 L654.70 400.26 L655.70 399.52 L656.70 398.78 L657.70 398.05 L658.70 397.32 L659.70 396.60 L660.70 395.88 L661.70 395.16 L662.70 394.46 L663.70 393.75 L664.70 393.06 L665.70 392.36 L666.70 391.67 L667.70 390.99 L668.70 390.31 L669.70 389.63 L670.70 388.96 L671.70 388.29 L672.70 387.63 L673.70 386.97 L674.70 386.31 L675.70 385.66 L676.70 385.01 L677.70 384.36 L678.70 383.72 L679.70 383.08 L680.70 382.44 L681.70 381.81 L682.70 381.18 L683.70 380.55 L684.70 379.92 L685.70 379.30 L686.70 378.68 L687.70 378.06 L688.70 377.44 L689.70 376.83 L690.70 376.22 L691.70 375.61 L692.70 375.00 L693.70 374.39 L694.70 373.79 L695.70 373.18 L696.70 372.58 L697.70 371.98 L698.70 371.38 L699.70 370.78 L700.70 370.19 L701.70 369.59 L702.70 368.99 L703.70 368.40 L704.70 367.80 L705.70 367.21 L706.70 366.62 L707.70 366.02 L708.70 365.43 L709.70 364.83 L710.70 364.24 L711.70 363.65 L712.70 363.05 L713.70 362.46 L714.70 361.86 L715.70 361.27 L716.70 360.67 L717.70 360.08 L718.70 359.48 L719.70 358.88 L720.70 358.28 L721.70 357.68 L722.70 357.08 L723.70 356.47 L724.70 355.87 L725.70 355.26 L726.70 354.65 L727.70 354.04 L728.70 353.43 L729.70 352.81 L730.70 352.20 L731.70 351.58 L732.20 351.27" fill="none" stroke="#800080" stroke-width="2.4" stroke-linejoin="round" stroke-linecap="butt" />
<path d="M579 488.3 L732.2 488.3" fill="none" stroke="#000000" stroke-width="1.7" stroke-linejoin="round" stroke-linecap="butt" />
</g>
<line x1="600.89" y1="489" x2="600.89" y2="486" stroke="#000" stroke-width="1.1"/>
<line x1="622.77" y1="489" x2="622.77" y2="486" stroke="#000" stroke-width="1.1"/>
<line x1="644.66" y1="489" x2="644.66" y2="486" stroke="#000" stroke-width="1.1"/>
<line x1="666.54" y1="489" x2="666.54" y2="486" stroke="#000" stroke-width="1.1"/>
<line x1="688.43" y1="489" x2="688.43" y2="486" stroke="#000" stroke-width="1.1"/>
<line x1="710.31" y1="489" x2="710.31" y2="486" stroke="#000" stroke-width="1.1"/>
<path d="M732.2 272.7 L579 272.7 L579 489 L732.2 489" fill="none" stroke="#000" stroke-width="1.6" stroke-linecap="square"/>
<line x1="732.2" y1="271.9" x2="732.2" y2="489.8" stroke="#000" stroke-width="1.6"/>
<text x="513.8" y="278" font-size="14.0" text-anchor="start" fill="#000" font-weight="bold" >(f)</text>
<text x="573.8" y="440.73" font-size="13.0" text-anchor="end" fill="#000" font-weight="normal" >-2.0E-4</text>
<text x="573.8" y="386.65" font-size="13.0" text-anchor="end" fill="#000" font-weight="normal" >-4.0E-4</text>
<text x="573.8" y="332.57" font-size="13.0" text-anchor="end" fill="#000" font-weight="normal" >-6.0E-4</text>
<text x="573.8" y="278.5" font-size="13.0" text-anchor="end" fill="#000" font-weight="normal" >-8.0E-4</text>
<text x="579" y="502.8" font-size="13.0" text-anchor="middle" fill="#000" font-weight="normal" >0</text>
<text x="622.77" y="502.8" font-size="13.0" text-anchor="middle" fill="#000" font-weight="normal" >20</text>
<text x="666.54" y="502.8" font-size="13.0" text-anchor="middle" fill="#000" font-weight="normal" >40</text>
<text x="710.31" y="502.8" font-size="13.0" text-anchor="middle" fill="#000" font-weight="normal" >60</text>
<text x="642" y="518" font-size="13.4"><tspan font-style="italic">V</tspan><tspan font-size="8.0" dy="4" dx="-0.8">D</tspan><tspan dy="-4"> (V)</tspan></text>
<text transform="translate(525 385.5) rotate(-90)" x="0" y="0" font-size="13.4" text-anchor="middle"><tspan font-style="italic">I</tspan><tspan font-size="8.0" dy="3">S</tspan><tspan dy="-3"> (A)</tspan></text>
<line x1="592.1" y1="286.9" x2="610.3" y2="286.9" stroke="#000000" stroke-width="2.4"/>
<text x="613.5" y="291.9" font-size="14.0" text-anchor="start" fill="#000" font-weight="normal" >0 V</text>
<line x1="592.1" y1="301.5" x2="610.3" y2="301.5" stroke="#ff0000" stroke-width="2.4"/>
<text x="613.5" y="306.5" font-size="14.0" text-anchor="start" fill="#000" font-weight="normal" >10 V</text>
<line x1="592.1" y1="316.1" x2="610.3" y2="316.1" stroke="#0000ff" stroke-width="2.4"/>
<text x="613.5" y="321.1" font-size="14.0" text-anchor="start" fill="#000" font-weight="normal" >20 V</text>
<line x1="592.1" y1="330.7" x2="610.3" y2="330.7" stroke="#800000" stroke-width="2.4"/>
<text x="613.5" y="335.7" font-size="14.0" text-anchor="start" fill="#000" font-weight="normal" >30 V</text>
<line x1="592.1" y1="345.3" x2="610.3" y2="345.3" stroke="#ff80ff" stroke-width="2.4"/>
<text x="613.5" y="350.3" font-size="14.0" text-anchor="start" fill="#000" font-weight="normal" >40 V</text>
<line x1="592.1" y1="359.9" x2="610.3" y2="359.9" stroke="#008000" stroke-width="2.4"/>
<text x="613.5" y="364.9" font-size="14.0" text-anchor="start" fill="#000" font-weight="normal" >50 V</text>
<line x1="592.1" y1="374.5" x2="610.3" y2="374.5" stroke="#8000ff" stroke-width="2.4"/>
<text x="613.5" y="379.5" font-size="14.0" text-anchor="start" fill="#000" font-weight="normal" >60 V</text>
<line x1="592.1" y1="389.1" x2="610.3" y2="389.1" stroke="#800080" stroke-width="2.4"/>
<text x="613.5" y="394.1" font-size="14.0" text-anchor="start" fill="#000" font-weight="normal" >70 V</text>
</svg>
</body></html>
